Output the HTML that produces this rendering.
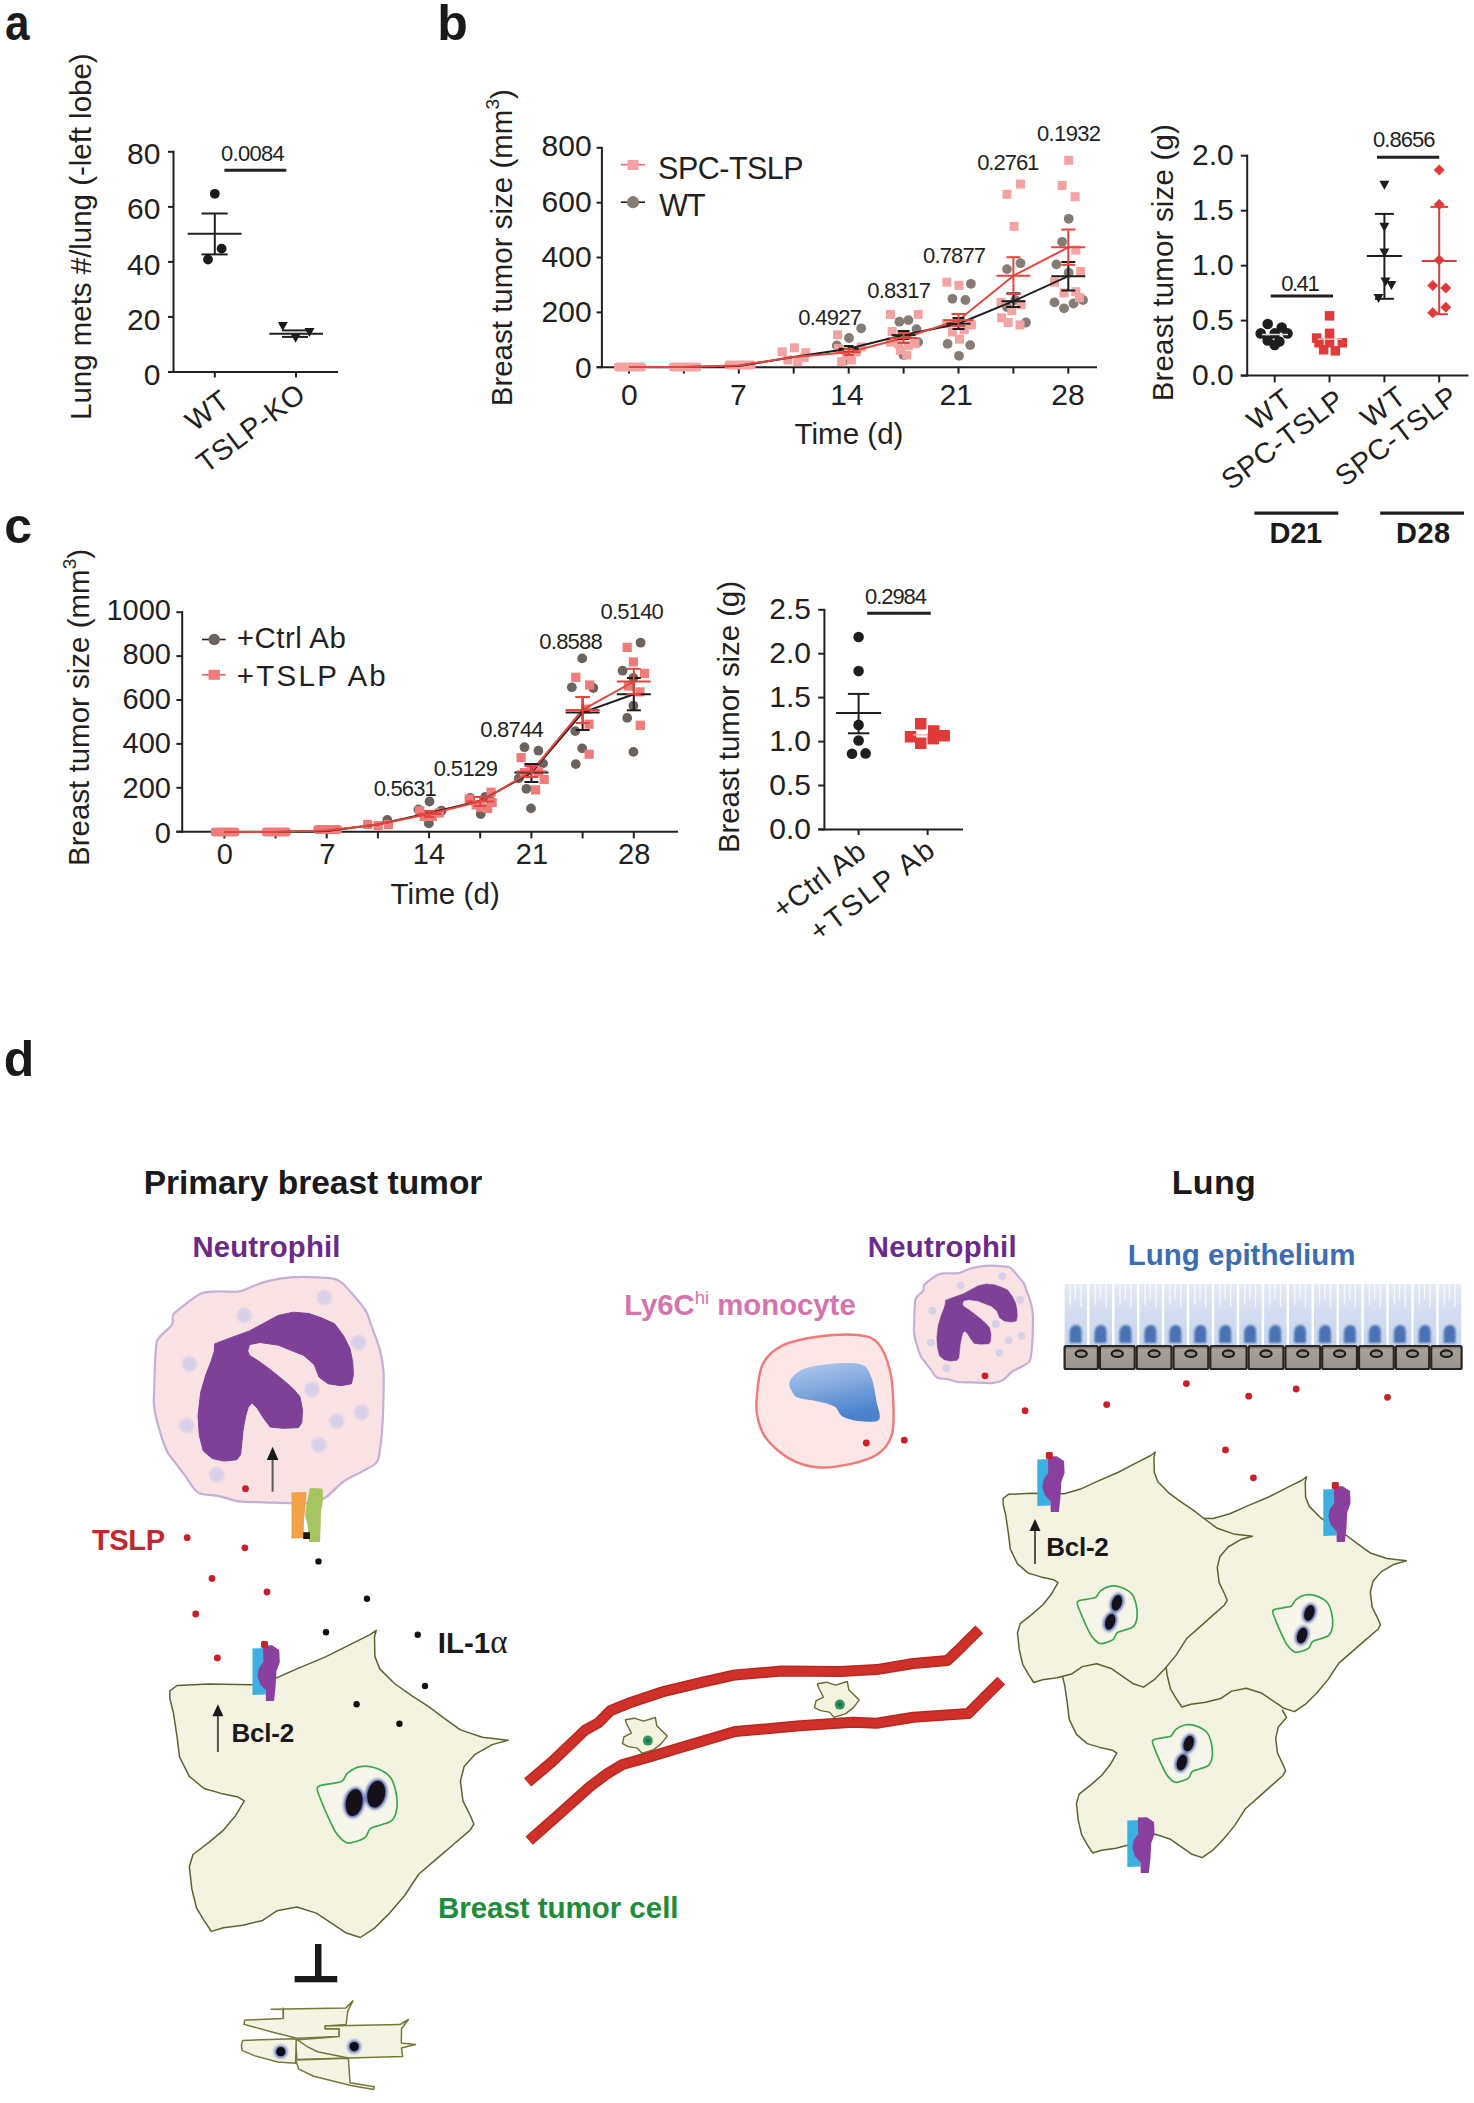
<!DOCTYPE html><html><head><meta charset="utf-8"><style>html,body{margin:0;padding:0;background:#fff;overflow:hidden}svg{display:block}text{font-family:"Liberation Sans",sans-serif}</style></head><body><svg width="1474" height="2103" viewBox="0 0 1474 2103" font-family="Liberation Sans, sans-serif"><text transform="translate(7.2 40) scale(0.88 1)" font-size="50" font-weight="bold" fill="#1a1a1a" x="-2.6" y="0">a</text>
<text x="437.2" y="39.7" font-size="50" text-anchor="start" font-weight="bold" fill="#1a1a1a" >b</text>
<text x="4.3" y="542.7" font-size="50" text-anchor="start" font-weight="bold" fill="#1a1a1a" >c</text>
<text x="3.7" y="1076.2" font-size="50" text-anchor="start" font-weight="bold" fill="#1a1a1a" >d</text>
<line x1="173.5" y1="150.8" x2="173.5" y2="373.0" stroke="#231f20" stroke-width="2" />
<line x1="168.0" y1="151.8" x2="173.5" y2="151.8" stroke="#231f20" stroke-width="2" />
<text x="127.10" y="164.40" font-size="30" font-weight="normal" fill="#231f20" textLength="33.37" lengthAdjust="spacing">80</text>
<line x1="168.0" y1="206.9" x2="173.5" y2="206.9" stroke="#231f20" stroke-width="2" />
<text x="127.10" y="219.45" font-size="30" font-weight="normal" fill="#231f20" textLength="33.37" lengthAdjust="spacing">60</text>
<line x1="168.0" y1="261.9" x2="173.5" y2="261.9" stroke="#231f20" stroke-width="2" />
<text x="127.10" y="274.50" font-size="30" font-weight="normal" fill="#231f20" textLength="33.37" lengthAdjust="spacing">40</text>
<line x1="168.0" y1="316.9" x2="173.5" y2="316.9" stroke="#231f20" stroke-width="2" />
<text x="127.10" y="329.55" font-size="30" font-weight="normal" fill="#231f20" textLength="33.37" lengthAdjust="spacing">20</text>
<line x1="168.0" y1="372.0" x2="173.5" y2="372.0" stroke="#231f20" stroke-width="2" />
<text x="143.79" y="384.60" font-size="30" font-weight="normal" fill="#231f20" textLength="16.68" lengthAdjust="spacing">0</text>
<line x1="168.0" y1="372.0" x2="338.0" y2="372.0" stroke="#231f20" stroke-width="2" />
<line x1="214.8" y1="372.0" x2="214.8" y2="377.5" stroke="#231f20" stroke-width="2" />
<line x1="296.0" y1="372.0" x2="296.0" y2="377.5" stroke="#231f20" stroke-width="2" />
<g transform="translate(90.60 419.92) rotate(-90)"><text x="0" y="0" font-size="29.5" font-weight="normal" fill="#231f20" textLength="366.55" lengthAdjust="spacing">Lung mets #/lung (-left lobe)</text></g>
<g transform="translate(231.35 404.65) rotate(-37)"><text x="0" y="0" text-anchor="end" font-size="28.7" fill="#231f20" textLength="45.96" lengthAdjust="spacing">WT</text></g>
<g transform="translate(307.10 398.00) rotate(-37)"><text x="0" y="0" text-anchor="end" font-size="28.7" fill="#231f20" textLength="126.49" lengthAdjust="spacing">TSLP-KO</text></g>
<text x="220.94" y="160.50" font-size="22" font-weight="normal" fill="#231f20" textLength="63.90" lengthAdjust="spacing">0.0084</text>
<line x1="224.4" y1="170.2" x2="286.3" y2="170.2" stroke="#231f20" stroke-width="3" />
<line x1="187.7" y1="233.8" x2="241.5" y2="233.8" stroke="#231f20" stroke-width="2" />
<line x1="214.8" y1="213.5" x2="214.8" y2="254.4" stroke="#231f20" stroke-width="2" />
<line x1="201.5" y1="213.5" x2="227.7" y2="213.5" stroke="#231f20" stroke-width="2" />
<line x1="201.5" y1="254.4" x2="227.7" y2="254.4" stroke="#231f20" stroke-width="2" />
<circle cx="214.8" cy="193.8" r="4.9" fill="#1a1a1a" />
<circle cx="221.6" cy="248.6" r="4.9" fill="#1a1a1a" />
<circle cx="208.0" cy="259.5" r="4.9" fill="#1a1a1a" />
<path d="M277.8,322.1L287.8,322.1L282.8,331.1Z" fill="#1a1a1a"/>
<path d="M304.5,327.9L314.5,327.9L309.5,336.9Z" fill="#1a1a1a"/>
<path d="M290.6,333.7L300.6,333.7L295.6,342.7Z" fill="#1a1a1a"/>
<line x1="282.0" y1="330.4" x2="308.0" y2="330.4" stroke="#231f20" stroke-width="2" />
<line x1="282.0" y1="336.9" x2="308.0" y2="336.9" stroke="#231f20" stroke-width="2" />
<line x1="269.3" y1="333.7" x2="323.0" y2="333.7" stroke="#231f20" stroke-width="2" />
<line x1="601.9" y1="146.8" x2="601.9" y2="368.2" stroke="#231f20" stroke-width="2" />
<line x1="596.6" y1="147.8" x2="601.9" y2="147.8" stroke="#231f20" stroke-width="2" />
<text x="541.62" y="156.40" font-size="30" font-weight="normal" fill="#231f20" textLength="50.05" lengthAdjust="spacing">800</text>
<line x1="596.6" y1="202.7" x2="601.9" y2="202.7" stroke="#231f20" stroke-width="2" />
<text x="541.62" y="212.20" font-size="30" font-weight="normal" fill="#231f20" textLength="50.05" lengthAdjust="spacing">600</text>
<line x1="596.6" y1="257.5" x2="601.9" y2="257.5" stroke="#231f20" stroke-width="2" />
<text x="541.62" y="267.20" font-size="30" font-weight="normal" fill="#231f20" textLength="50.05" lengthAdjust="spacing">400</text>
<line x1="596.6" y1="312.4" x2="601.9" y2="312.4" stroke="#231f20" stroke-width="2" />
<text x="541.62" y="322.30" font-size="30" font-weight="normal" fill="#231f20" textLength="50.05" lengthAdjust="spacing">200</text>
<line x1="596.6" y1="367.2" x2="601.9" y2="367.2" stroke="#231f20" stroke-width="2" />
<text x="574.99" y="378.10" font-size="30" font-weight="normal" fill="#231f20" textLength="16.68" lengthAdjust="spacing">0</text>
<line x1="596.6" y1="367.2" x2="1097.0" y2="367.2" stroke="#231f20" stroke-width="2" />
<line x1="629.0" y1="367.2" x2="629.0" y2="373.6" stroke="#231f20" stroke-width="2" />
<line x1="683.9" y1="367.2" x2="683.9" y2="373.6" stroke="#231f20" stroke-width="2" />
<line x1="738.8" y1="367.2" x2="738.8" y2="373.6" stroke="#231f20" stroke-width="2" />
<line x1="793.7" y1="367.2" x2="793.7" y2="373.6" stroke="#231f20" stroke-width="2" />
<line x1="848.7" y1="367.2" x2="848.7" y2="373.6" stroke="#231f20" stroke-width="2" />
<line x1="903.6" y1="367.2" x2="903.6" y2="373.6" stroke="#231f20" stroke-width="2" />
<line x1="958.5" y1="367.2" x2="958.5" y2="373.6" stroke="#231f20" stroke-width="2" />
<line x1="1013.4" y1="367.2" x2="1013.4" y2="373.6" stroke="#231f20" stroke-width="2" />
<line x1="1068.3" y1="367.2" x2="1068.3" y2="373.6" stroke="#231f20" stroke-width="2" />
<text x="620.96" y="405.30" font-size="30" font-weight="normal" fill="#231f20" textLength="16.68" lengthAdjust="spacing">0</text>
<text x="729.94" y="405.30" font-size="30" font-weight="normal" fill="#231f20" textLength="16.68" lengthAdjust="spacing">7</text>
<text x="830.21" y="405.30" font-size="30" font-weight="normal" fill="#231f20" textLength="33.37" lengthAdjust="spacing">14</text>
<text x="939.49" y="405.30" font-size="30" font-weight="normal" fill="#231f20" textLength="33.37" lengthAdjust="spacing">21</text>
<text x="1051.31" y="405.30" font-size="30" font-weight="normal" fill="#231f20" textLength="33.37" lengthAdjust="spacing">28</text>
<text x="794.54" y="444.20" font-size="29.5" font-weight="normal" fill="#231f20" textLength="108.89" lengthAdjust="spacing">Time (d)</text>
<g transform="translate(511.5 406.3) rotate(-90)"><text x="0" y="0" font-size="29.5" fill="#231f20">Breast tumor size (mm<tspan dy="-13" font-size="19">3</tspan><tspan dy="13">)</tspan></text></g>
<line x1="620.9" y1="164.7" x2="645.0" y2="164.7" stroke="#ee6b6b" stroke-width="1.6" />
<rect x="627.5" y="160.0" width="11" height="10" fill="#f4a3a3"/>
<text x="658.11" y="178.50" font-size="30.5" font-weight="normal" fill="#231f20" textLength="145.49" lengthAdjust="spacing">SPC-TSLP</text>
<line x1="620.9" y1="202.2" x2="645.0" y2="202.2" stroke="#1e1e1e" stroke-width="1.6" />
<circle cx="633.0" cy="202.2" r="6.1" fill="#867c76" />
<text x="659.37" y="215.80" font-size="30.5" font-weight="normal" fill="#231f20" textLength="46.33" lengthAdjust="spacing">WT</text>
<rect x="614.0" y="362.5" width="32.0" height="9" rx="3" fill="#f4a3a3"/>
<rect x="669.0" y="362.5" width="32.5" height="9" rx="3" fill="#f4a3a3"/>
<rect x="724.5" y="360.5" width="31.2" height="9" rx="3" fill="#f4a3a3"/>
<circle cx="970.9" cy="283.8" r="4.9" fill="#867c76" />
<circle cx="952.4" cy="298.8" r="4.9" fill="#867c76" />
<circle cx="965.4" cy="300.0" r="4.9" fill="#867c76" />
<circle cx="947.6" cy="343.9" r="4.9" fill="#867c76" />
<circle cx="970.2" cy="345.1" r="4.9" fill="#867c76" />
<circle cx="959.0" cy="355.8" r="4.9" fill="#867c76" />
<circle cx="1007.0" cy="269.1" r="4.9" fill="#867c76" />
<circle cx="1020.5" cy="263.2" r="4.9" fill="#867c76" />
<circle cx="1007.0" cy="307.1" r="4.9" fill="#867c76" />
<circle cx="1026.0" cy="322.5" r="4.9" fill="#867c76" />
<circle cx="1015.3" cy="300.0" r="4.9" fill="#867c76" />
<circle cx="1068.7" cy="218.8" r="4.9" fill="#867c76" />
<circle cx="1062.1" cy="241.8" r="4.9" fill="#867c76" />
<circle cx="1056.4" cy="264.4" r="4.9" fill="#867c76" />
<circle cx="1068.7" cy="272.7" r="4.9" fill="#867c76" />
<circle cx="1054.5" cy="302.4" r="4.9" fill="#867c76" />
<circle cx="1064.0" cy="308.3" r="4.9" fill="#867c76" />
<circle cx="1073.5" cy="303.5" r="4.9" fill="#867c76" />
<circle cx="1083.0" cy="300.0" r="4.9" fill="#867c76" />
<circle cx="836.8" cy="345.4" r="4.9" fill="#867c76" />
<circle cx="849.0" cy="338.0" r="4.9" fill="#867c76" />
<circle cx="861.2" cy="328.3" r="4.9" fill="#867c76" />
<circle cx="843.3" cy="361.6" r="4.9" fill="#867c76" />
<circle cx="899.4" cy="321.7" r="4.9" fill="#867c76" />
<circle cx="908.4" cy="320.1" r="4.9" fill="#867c76" />
<circle cx="916.5" cy="329.1" r="4.9" fill="#867c76" />
<circle cx="918.2" cy="342.1" r="4.9" fill="#867c76" />
<circle cx="903.5" cy="355.1" r="4.9" fill="#867c76" />
<rect x="942.4" y="277.7" width="9" height="9" fill="#f4a3a3"/>
<rect x="954.5" y="280.8" width="9" height="9" fill="#f4a3a3"/>
<rect x="941.9" y="319.2" width="9" height="9" fill="#f4a3a3"/>
<rect x="966.9" y="320.4" width="9" height="9" fill="#f4a3a3"/>
<rect x="955.0" y="334.7" width="9" height="9" fill="#f4a3a3"/>
<rect x="947.9" y="327.5" width="9" height="9" fill="#f4a3a3"/>
<rect x="959.7" y="325.2" width="9" height="9" fill="#f4a3a3"/>
<rect x="953.8" y="318.0" width="9" height="9" fill="#f4a3a3"/>
<rect x="1002.5" y="189.8" width="9" height="9" fill="#f4a3a3"/>
<rect x="1016.0" y="179.6" width="9" height="9" fill="#f4a3a3"/>
<rect x="1009.6" y="221.9" width="9" height="9" fill="#f4a3a3"/>
<rect x="996.5" y="297.9" width="9" height="9" fill="#f4a3a3"/>
<rect x="1016.7" y="300.2" width="9" height="9" fill="#f4a3a3"/>
<rect x="997.2" y="313.3" width="9" height="9" fill="#f4a3a3"/>
<rect x="1003.7" y="318.0" width="9" height="9" fill="#f4a3a3"/>
<rect x="1015.5" y="320.4" width="9" height="9" fill="#f4a3a3"/>
<rect x="1007.2" y="306.2" width="9" height="9" fill="#f4a3a3"/>
<rect x="1064.2" y="155.8" width="9" height="9" fill="#f4a3a3"/>
<rect x="1057.6" y="181.0" width="9" height="9" fill="#f4a3a3"/>
<rect x="1070.6" y="192.2" width="9" height="9" fill="#f4a3a3"/>
<rect x="1071.3" y="245.6" width="9" height="9" fill="#f4a3a3"/>
<rect x="1076.1" y="267.0" width="9" height="9" fill="#f4a3a3"/>
<rect x="1050.0" y="277.7" width="9" height="9" fill="#f4a3a3"/>
<rect x="1059.5" y="288.4" width="9" height="9" fill="#f4a3a3"/>
<rect x="1071.3" y="287.2" width="9" height="9" fill="#f4a3a3"/>
<rect x="1074.9" y="293.1" width="9" height="9" fill="#f4a3a3"/>
<rect x="777.7" y="347.4" width="9" height="9" fill="#f4a3a3"/>
<rect x="789.9" y="343.3" width="9" height="9" fill="#f4a3a3"/>
<rect x="801.3" y="348.2" width="9" height="9" fill="#f4a3a3"/>
<rect x="783.4" y="355.5" width="9" height="9" fill="#f4a3a3"/>
<rect x="793.2" y="357.1" width="9" height="9" fill="#f4a3a3"/>
<rect x="799.7" y="353.1" width="9" height="9" fill="#f4a3a3"/>
<rect x="833.1" y="330.3" width="9" height="9" fill="#f4a3a3"/>
<rect x="856.7" y="342.5" width="9" height="9" fill="#f4a3a3"/>
<rect x="846.9" y="355.5" width="9" height="9" fill="#f4a3a3"/>
<rect x="837.1" y="357.1" width="9" height="9" fill="#f4a3a3"/>
<rect x="842.0" y="350.6" width="9" height="9" fill="#f4a3a3"/>
<rect x="833.9" y="344.1" width="9" height="9" fill="#f4a3a3"/>
<rect x="851.8" y="347.4" width="9" height="9" fill="#f4a3a3"/>
<rect x="886.0" y="309.9" width="9" height="9" fill="#f4a3a3"/>
<rect x="913.7" y="309.9" width="9" height="9" fill="#f4a3a3"/>
<rect x="887.6" y="327.0" width="9" height="9" fill="#f4a3a3"/>
<rect x="886.0" y="337.6" width="9" height="9" fill="#f4a3a3"/>
<rect x="895.8" y="345.7" width="9" height="9" fill="#f4a3a3"/>
<rect x="903.9" y="340.9" width="9" height="9" fill="#f4a3a3"/>
<rect x="910.4" y="339.2" width="9" height="9" fill="#f4a3a3"/>
<rect x="902.3" y="350.6" width="9" height="9" fill="#f4a3a3"/>
<rect x="894.1" y="339.2" width="9" height="9" fill="#f4a3a3"/>
<polyline fill="none" stroke="#1e1e1e" stroke-width="2" points="629.0,367.0 683.9,367.0 738.8,366.0 793.7,357.0 848.7,348.7 903.6,335.1 958.5,323.7 1013.4,301.2 1068.3,276.2"/>
<polyline fill="none" stroke="#e4453c" stroke-width="2" points="629.0,367.0 683.9,367.0 738.8,365.5 793.7,357.0 848.7,352.2 903.6,338.0 958.5,320.2 1013.4,275.8 1068.3,247.3"/>
<line x1="838.7" y1="348.7" x2="858.7" y2="348.7" stroke="#1e1e1e" stroke-width="2" />
<line x1="848.7" y1="346.0" x2="848.7" y2="352.0" stroke="#1e1e1e" stroke-width="2" />
<line x1="843.7" y1="346.0" x2="853.7" y2="346.0" stroke="#1e1e1e" stroke-width="2" />
<line x1="843.7" y1="352.0" x2="853.7" y2="352.0" stroke="#1e1e1e" stroke-width="2" />
<line x1="891.6" y1="335.1" x2="915.6" y2="335.1" stroke="#1e1e1e" stroke-width="2" />
<line x1="903.6" y1="331.0" x2="903.6" y2="339.0" stroke="#1e1e1e" stroke-width="2" />
<line x1="897.6" y1="331.0" x2="909.6" y2="331.0" stroke="#1e1e1e" stroke-width="2" />
<line x1="897.6" y1="339.0" x2="909.6" y2="339.0" stroke="#1e1e1e" stroke-width="2" />
<line x1="946.5" y1="323.7" x2="970.5" y2="323.7" stroke="#1e1e1e" stroke-width="2" />
<line x1="958.5" y1="318.0" x2="958.5" y2="329.0" stroke="#1e1e1e" stroke-width="2" />
<line x1="952.5" y1="318.0" x2="964.5" y2="318.0" stroke="#1e1e1e" stroke-width="2" />
<line x1="952.5" y1="329.0" x2="964.5" y2="329.0" stroke="#1e1e1e" stroke-width="2" />
<line x1="1001.4" y1="301.2" x2="1025.4" y2="301.2" stroke="#1e1e1e" stroke-width="2" />
<line x1="1013.4" y1="293.3" x2="1013.4" y2="307.0" stroke="#1e1e1e" stroke-width="2" />
<line x1="1006.4" y1="293.3" x2="1020.4" y2="293.3" stroke="#1e1e1e" stroke-width="2" />
<line x1="1006.4" y1="307.0" x2="1020.4" y2="307.0" stroke="#1e1e1e" stroke-width="2" />
<line x1="1051.3" y1="276.2" x2="1085.3" y2="276.2" stroke="#1e1e1e" stroke-width="2" />
<line x1="1068.3" y1="262.0" x2="1068.3" y2="290.5" stroke="#1e1e1e" stroke-width="2" />
<line x1="1061.3" y1="262.0" x2="1075.3" y2="262.0" stroke="#1e1e1e" stroke-width="2" />
<line x1="1061.3" y1="290.5" x2="1075.3" y2="290.5" stroke="#1e1e1e" stroke-width="2" />
<line x1="836.7" y1="352.2" x2="860.7" y2="352.2" stroke="#e4453c" stroke-width="2" />
<line x1="848.7" y1="349.0" x2="848.7" y2="355.0" stroke="#e4453c" stroke-width="2" />
<line x1="843.7" y1="349.0" x2="853.7" y2="349.0" stroke="#e4453c" stroke-width="2" />
<line x1="843.7" y1="355.0" x2="853.7" y2="355.0" stroke="#e4453c" stroke-width="2" />
<line x1="889.6" y1="338.0" x2="917.6" y2="338.0" stroke="#e4453c" stroke-width="2" />
<line x1="903.6" y1="333.0" x2="903.6" y2="343.0" stroke="#e4453c" stroke-width="2" />
<line x1="897.6" y1="333.0" x2="909.6" y2="333.0" stroke="#e4453c" stroke-width="2" />
<line x1="897.6" y1="343.0" x2="909.6" y2="343.0" stroke="#e4453c" stroke-width="2" />
<line x1="943.5" y1="320.2" x2="973.5" y2="320.2" stroke="#e4453c" stroke-width="2" />
<line x1="958.5" y1="314.0" x2="958.5" y2="326.0" stroke="#e4453c" stroke-width="2" />
<line x1="951.5" y1="314.0" x2="965.5" y2="314.0" stroke="#e4453c" stroke-width="2" />
<line x1="951.5" y1="326.0" x2="965.5" y2="326.0" stroke="#e4453c" stroke-width="2" />
<line x1="996.4" y1="275.8" x2="1030.4" y2="275.8" stroke="#e4453c" stroke-width="2" />
<line x1="1013.4" y1="257.2" x2="1013.4" y2="294.0" stroke="#e4453c" stroke-width="2" />
<line x1="1006.4" y1="257.2" x2="1020.4" y2="257.2" stroke="#e4453c" stroke-width="2" />
<line x1="1006.4" y1="294.0" x2="1020.4" y2="294.0" stroke="#e4453c" stroke-width="2" />
<line x1="1051.3" y1="247.3" x2="1085.3" y2="247.3" stroke="#e4453c" stroke-width="2" />
<line x1="1068.3" y1="229.5" x2="1068.3" y2="264.8" stroke="#e4453c" stroke-width="2" />
<line x1="1061.3" y1="229.5" x2="1075.3" y2="229.5" stroke="#e4453c" stroke-width="2" />
<line x1="1061.3" y1="264.8" x2="1075.3" y2="264.8" stroke="#e4453c" stroke-width="2" />
<text x="798.34" y="325.00" font-size="22" font-weight="normal" fill="#231f20" textLength="63.77" lengthAdjust="spacing">0.4927</text>
<text x="867.14" y="297.60" font-size="22" font-weight="normal" fill="#231f20" textLength="63.77" lengthAdjust="spacing">0.8317</text>
<text x="923.04" y="263.00" font-size="22" font-weight="normal" fill="#231f20" textLength="63.07" lengthAdjust="spacing">0.7877</text>
<text x="977.14" y="169.80" font-size="22" font-weight="normal" fill="#231f20" textLength="62.23" lengthAdjust="spacing">0.2761</text>
<text x="1036.94" y="140.90" font-size="22" font-weight="normal" fill="#231f20" textLength="64.17" lengthAdjust="spacing">0.1932</text>
<line x1="1247.2" y1="154.7" x2="1247.2" y2="376.6" stroke="#231f20" stroke-width="2" />
<line x1="1240.8" y1="155.7" x2="1247.2" y2="155.7" stroke="#231f20" stroke-width="2" />
<text x="1191.97" y="165.00" font-size="30" font-weight="normal" fill="#231f20" textLength="41.70" lengthAdjust="spacing">2.0</text>
<line x1="1240.8" y1="210.7" x2="1247.2" y2="210.7" stroke="#231f20" stroke-width="2" />
<text x="1192.06" y="219.98" font-size="30" font-weight="normal" fill="#231f20" textLength="41.70" lengthAdjust="spacing">1.5</text>
<line x1="1240.8" y1="265.7" x2="1247.2" y2="265.7" stroke="#231f20" stroke-width="2" />
<text x="1191.97" y="274.96" font-size="30" font-weight="normal" fill="#231f20" textLength="41.70" lengthAdjust="spacing">1.0</text>
<line x1="1240.8" y1="320.6" x2="1247.2" y2="320.6" stroke="#231f20" stroke-width="2" />
<text x="1192.06" y="329.94" font-size="30" font-weight="normal" fill="#231f20" textLength="41.70" lengthAdjust="spacing">0.5</text>
<line x1="1240.8" y1="375.6" x2="1247.2" y2="375.6" stroke="#231f20" stroke-width="2" />
<text x="1191.97" y="384.92" font-size="30" font-weight="normal" fill="#231f20" textLength="41.70" lengthAdjust="spacing">0.0</text>
<line x1="1240.8" y1="375.6" x2="1468.4" y2="375.6" stroke="#231f20" stroke-width="2" />
<line x1="1274.7" y1="375.6" x2="1274.7" y2="382.4" stroke="#231f20" stroke-width="2" />
<line x1="1329.5" y1="375.6" x2="1329.5" y2="382.4" stroke="#231f20" stroke-width="2" />
<line x1="1384.4" y1="375.6" x2="1384.4" y2="382.4" stroke="#231f20" stroke-width="2" />
<line x1="1439.2" y1="375.6" x2="1439.2" y2="382.4" stroke="#231f20" stroke-width="2" />
<g transform="translate(1172.70 401.32) rotate(-90)"><text x="0" y="0" font-size="29.5" font-weight="normal" fill="#231f20" textLength="277.15" lengthAdjust="spacing">Breast tumor size (g)</text></g>
<g transform="translate(1293.95 403.20) rotate(-37)"><text x="0" y="0" text-anchor="end" font-size="28.7" fill="#231f20" textLength="47.30" lengthAdjust="spacing">WT</text></g>
<g transform="translate(1346.10 404.05) rotate(-37)"><text x="0" y="0" text-anchor="end" font-size="28.7" fill="#231f20" textLength="144.56" lengthAdjust="spacing">SPC-TSLP</text></g>
<g transform="translate(1407.70 400.60) rotate(-37)"><text x="0" y="0" text-anchor="end" font-size="28.7" fill="#231f20" textLength="47.30" lengthAdjust="spacing">WT</text></g>
<g transform="translate(1459.90 400.50) rotate(-37)"><text x="0" y="0" text-anchor="end" font-size="28.7" fill="#231f20" textLength="144.56" lengthAdjust="spacing">SPC-TSLP</text></g>
<line x1="1254.4" y1="513.2" x2="1338.3" y2="513.2" stroke="#231f20" stroke-width="3.2" />
<line x1="1380.2" y1="513.2" x2="1464.0" y2="513.2" stroke="#231f20" stroke-width="3.2" />
<text x="1269.46" y="542.70" font-size="29" font-weight="bold" fill="#1a1a1a" textLength="52.75" lengthAdjust="spacing">D21</text>
<text x="1395.96" y="542.70" font-size="29" font-weight="bold" fill="#1a1a1a" textLength="54.23" lengthAdjust="spacing">D28</text>
<text x="1281.14" y="291.40" font-size="22" font-weight="normal" fill="#231f20" textLength="38.53" lengthAdjust="spacing">0.41</text>
<line x1="1270.7" y1="296.0" x2="1333.0" y2="296.0" stroke="#231f20" stroke-width="3" />
<text x="1373.04" y="146.70" font-size="22" font-weight="normal" fill="#231f20" textLength="62.43" lengthAdjust="spacing">0.8656</text>
<line x1="1377.0" y1="157.2" x2="1439.2" y2="157.2" stroke="#231f20" stroke-width="3" />
<circle cx="1267.7" cy="324.0" r="5.3" fill="#1e1e1e" />
<circle cx="1281.7" cy="327.5" r="5.3" fill="#1e1e1e" />
<circle cx="1274.7" cy="333.4" r="5.3" fill="#1e1e1e" />
<circle cx="1260.7" cy="333.4" r="5.3" fill="#1e1e1e" />
<circle cx="1287.5" cy="333.4" r="5.3" fill="#1e1e1e" />
<circle cx="1267.7" cy="340.4" r="5.3" fill="#1e1e1e" />
<circle cx="1279.4" cy="341.5" r="5.3" fill="#1e1e1e" />
<circle cx="1274.7" cy="345.0" r="5.3" fill="#1e1e1e" />
<line x1="1262.0" y1="334.5" x2="1288.0" y2="334.5" stroke="#dddddd" stroke-width="1.5" />
<rect x="1324.8" y="311.1" width="9.5" height="9.5" fill="#e03a3a"/>
<rect x="1311.9" y="333.3" width="9.5" height="9.5" fill="#e03a3a"/>
<rect x="1324.8" y="328.6" width="9.5" height="9.5" fill="#e03a3a"/>
<rect x="1337.6" y="338.0" width="9.5" height="9.5" fill="#e03a3a"/>
<rect x="1318.9" y="345.0" width="9.5" height="9.5" fill="#e03a3a"/>
<rect x="1330.6" y="346.1" width="9.5" height="9.5" fill="#e03a3a"/>
<rect x="1324.8" y="338.0" width="9.5" height="9.5" fill="#e03a3a"/>
<rect x="1314.3" y="338.0" width="9.5" height="9.5" fill="#e03a3a"/>
<line x1="1318.0" y1="339.2" x2="1342.0" y2="339.2" stroke="#f8c8c8" stroke-width="1.5" />
<path d="M1379.4,180.7L1389.4,180.7L1384.4,189.7Z" fill="#1e1e1e"/>
<path d="M1379.4,222.7L1389.4,222.7L1384.4,231.7Z" fill="#1e1e1e"/>
<path d="M1379.4,248.4L1389.4,248.4L1384.4,257.4Z" fill="#1e1e1e"/>
<path d="M1380.5,277.5L1390.5,277.5L1385.5,286.5Z" fill="#1e1e1e"/>
<path d="M1386.4,281.0L1396.4,281.0L1391.4,290.0Z" fill="#1e1e1e"/>
<path d="M1373.5,293.9L1383.5,293.9L1378.5,302.9Z" fill="#1e1e1e"/>
<line x1="1366.9" y1="255.9" x2="1401.9" y2="255.9" stroke="#1e1e1e" stroke-width="2" />
<line x1="1384.4" y1="213.9" x2="1384.4" y2="298.8" stroke="#1e1e1e" stroke-width="2" />
<line x1="1374.9" y1="213.9" x2="1393.9" y2="213.9" stroke="#1e1e1e" stroke-width="2" />
<line x1="1374.9" y1="298.8" x2="1393.9" y2="298.8" stroke="#1e1e1e" stroke-width="2" />
<path d="M1439.2,164.5L1444.7,170.0L1439.2,175.5L1433.7,170.0Z" fill="#e03a3a"/>
<path d="M1439.2,199.1L1444.7,204.6L1439.2,210.1L1433.7,204.6Z" fill="#e03a3a"/>
<path d="M1439.2,254.4L1444.7,259.9L1439.2,265.4L1433.7,259.9Z" fill="#e03a3a"/>
<path d="M1432.7,280.0L1438.2,285.5L1432.7,291.0L1427.2,285.5Z" fill="#e03a3a"/>
<path d="M1445.8,282.4L1451.3,287.9L1445.8,293.4L1440.3,287.9Z" fill="#e03a3a"/>
<path d="M1432.7,307.3L1438.2,312.8L1432.7,318.3L1427.2,312.8Z" fill="#e03a3a"/>
<path d="M1445.8,301.7L1451.3,307.2L1445.8,312.7L1440.3,307.2Z" fill="#e03a3a"/>
<line x1="1421.7" y1="261.0" x2="1456.7" y2="261.0" stroke="#e03a3a" stroke-width="2" />
<line x1="1439.2" y1="206.9" x2="1439.2" y2="314.2" stroke="#e03a3a" stroke-width="2" />
<line x1="1430.5" y1="206.9" x2="1447.9" y2="206.9" stroke="#e03a3a" stroke-width="2" />
<line x1="1430.5" y1="314.2" x2="1447.9" y2="314.2" stroke="#e03a3a" stroke-width="2" />
<line x1="182.2" y1="611.2" x2="182.2" y2="832.7" stroke="#231f20" stroke-width="2" />
<line x1="176.4" y1="612.2" x2="182.2" y2="612.2" stroke="#231f20" stroke-width="2" />
<text x="106.42" y="619.50" font-size="29" font-weight="normal" fill="#231f20" textLength="64.51" lengthAdjust="spacing">1000</text>
<line x1="176.4" y1="656.1" x2="182.2" y2="656.1" stroke="#231f20" stroke-width="2" />
<text x="122.55" y="664.00" font-size="29" font-weight="normal" fill="#231f20" textLength="48.39" lengthAdjust="spacing">800</text>
<line x1="176.4" y1="700.0" x2="182.2" y2="700.0" stroke="#231f20" stroke-width="2" />
<text x="122.55" y="709.20" font-size="29" font-weight="normal" fill="#231f20" textLength="48.39" lengthAdjust="spacing">600</text>
<line x1="176.4" y1="743.9" x2="182.2" y2="743.9" stroke="#231f20" stroke-width="2" />
<text x="122.55" y="752.70" font-size="29" font-weight="normal" fill="#231f20" textLength="48.39" lengthAdjust="spacing">400</text>
<line x1="176.4" y1="787.8" x2="182.2" y2="787.8" stroke="#231f20" stroke-width="2" />
<text x="122.55" y="797.50" font-size="29" font-weight="normal" fill="#231f20" textLength="48.39" lengthAdjust="spacing">200</text>
<line x1="176.4" y1="831.7" x2="182.2" y2="831.7" stroke="#231f20" stroke-width="2" />
<text x="154.80" y="842.60" font-size="29" font-weight="normal" fill="#231f20" textLength="16.13" lengthAdjust="spacing">0</text>
<line x1="176.4" y1="831.7" x2="678.0" y2="831.7" stroke="#231f20" stroke-width="2" />
<line x1="224.4" y1="831.7" x2="224.4" y2="838.4" stroke="#231f20" stroke-width="2" />
<line x1="275.6" y1="831.7" x2="275.6" y2="838.4" stroke="#231f20" stroke-width="2" />
<line x1="326.7" y1="831.7" x2="326.7" y2="838.4" stroke="#231f20" stroke-width="2" />
<line x1="377.9" y1="831.7" x2="377.9" y2="838.4" stroke="#231f20" stroke-width="2" />
<line x1="429.1" y1="831.7" x2="429.1" y2="838.4" stroke="#231f20" stroke-width="2" />
<line x1="480.2" y1="831.7" x2="480.2" y2="838.4" stroke="#231f20" stroke-width="2" />
<line x1="531.4" y1="831.7" x2="531.4" y2="838.4" stroke="#231f20" stroke-width="2" />
<line x1="582.6" y1="831.7" x2="582.6" y2="838.4" stroke="#231f20" stroke-width="2" />
<line x1="633.8" y1="831.7" x2="633.8" y2="838.4" stroke="#231f20" stroke-width="2" />
<text x="216.84" y="863.50" font-size="29" font-weight="normal" fill="#231f20" textLength="16.13" lengthAdjust="spacing">0</text>
<text x="319.16" y="863.50" font-size="29" font-weight="normal" fill="#231f20" textLength="16.13" lengthAdjust="spacing">7</text>
<text x="412.77" y="863.50" font-size="29" font-weight="normal" fill="#231f20" textLength="32.26" lengthAdjust="spacing">14</text>
<text x="515.77" y="863.50" font-size="29" font-weight="normal" fill="#231f20" textLength="32.26" lengthAdjust="spacing">21</text>
<text x="618.03" y="863.50" font-size="29" font-weight="normal" fill="#231f20" textLength="32.26" lengthAdjust="spacing">28</text>
<text x="390.54" y="903.80" font-size="29.5" font-weight="normal" fill="#231f20" textLength="109.29" lengthAdjust="spacing">Time (d)</text>
<g transform="translate(88.5 866) rotate(-90)"><text x="0" y="0" font-size="29.5" fill="#231f20">Breast tumor size (mm<tspan dy="-13" font-size="19">3</tspan><tspan dy="13">)</tspan></text></g>
<line x1="202.0" y1="639.5" x2="225.6" y2="639.5" stroke="#1e1e1e" stroke-width="1.6" />
<circle cx="214.2" cy="639.5" r="5.8" fill="#6b635e" />
<text x="236.76" y="648.20" font-size="29.5" font-weight="normal" fill="#231f20" textLength="109.08" lengthAdjust="spacing">+Ctrl Ab</text>
<line x1="202.0" y1="674.8" x2="225.6" y2="674.8" stroke="#ee6060" stroke-width="1.6" />
<rect x="208.5" y="669.8" width="11.4" height="10" fill="#ef7b7b"/>
<text x="236.76" y="685.50" font-size="29.5" font-weight="normal" fill="#231f20" textLength="148.98" lengthAdjust="spacing">+TSLP Ab</text>
<rect x="210.8" y="827.5" width="28.5" height="9" rx="3" fill="#ef7b7b"/>
<rect x="262.0" y="827.5" width="28.6" height="9" rx="3" fill="#ef7b7b"/>
<rect x="313.4" y="825" width="28.6" height="9" rx="3" fill="#ef7b7b"/>
<circle cx="429.5" cy="801.5" r="4.9" fill="#6b635e" />
<circle cx="418.4" cy="809.5" r="4.9" fill="#6b635e" />
<circle cx="441.5" cy="810.7" r="4.9" fill="#6b635e" />
<circle cx="428.8" cy="823.4" r="4.9" fill="#6b635e" />
<circle cx="470.3" cy="798.0" r="4.9" fill="#6b635e" />
<circle cx="485.3" cy="796.8" r="4.9" fill="#6b635e" />
<circle cx="491.1" cy="801.5" r="4.9" fill="#6b635e" />
<circle cx="480.7" cy="814.1" r="4.9" fill="#6b635e" />
<circle cx="524.5" cy="747.2" r="4.9" fill="#6b635e" />
<circle cx="538.4" cy="750.7" r="4.9" fill="#6b635e" />
<circle cx="543.0" cy="763.4" r="4.9" fill="#6b635e" />
<circle cx="518.8" cy="778.4" r="4.9" fill="#6b635e" />
<circle cx="526.4" cy="788.8" r="4.9" fill="#6b635e" />
<circle cx="531.0" cy="808.4" r="4.9" fill="#6b635e" />
<circle cx="582.2" cy="658.4" r="4.9" fill="#6b635e" />
<circle cx="571.8" cy="687.3" r="4.9" fill="#6b635e" />
<circle cx="593.3" cy="688.0" r="4.9" fill="#6b635e" />
<circle cx="575.3" cy="731.1" r="4.9" fill="#6b635e" />
<circle cx="582.2" cy="748.4" r="4.9" fill="#6b635e" />
<circle cx="575.8" cy="764.1" r="4.9" fill="#6b635e" />
<circle cx="640.6" cy="642.7" r="4.9" fill="#6b635e" />
<circle cx="622.6" cy="670.7" r="4.9" fill="#6b635e" />
<circle cx="633.4" cy="678.0" r="4.9" fill="#6b635e" />
<circle cx="633.4" cy="705.7" r="4.9" fill="#6b635e" />
<circle cx="627.2" cy="717.9" r="4.9" fill="#6b635e" />
<circle cx="633.4" cy="751.9" r="4.9" fill="#6b635e" />
<circle cx="387.3" cy="819.9" r="4.9" fill="#6b635e" />
<rect x="363.1" y="819.9" width="9.2" height="9.2" fill="#ef7b7b"/>
<rect x="373.5" y="821.1" width="9.2" height="9.2" fill="#ef7b7b"/>
<rect x="383.8" y="819.9" width="9.2" height="9.2" fill="#ef7b7b"/>
<rect x="415.0" y="806.1" width="9.2" height="9.2" fill="#ef7b7b"/>
<rect x="427.7" y="811.8" width="9.2" height="9.2" fill="#ef7b7b"/>
<rect x="434.6" y="808.4" width="9.2" height="9.2" fill="#ef7b7b"/>
<rect x="419.6" y="811.8" width="9.2" height="9.2" fill="#ef7b7b"/>
<rect x="464.6" y="794.5" width="9.2" height="9.2" fill="#ef7b7b"/>
<rect x="471.5" y="800.3" width="9.2" height="9.2" fill="#ef7b7b"/>
<rect x="486.5" y="787.6" width="9.2" height="9.2" fill="#ef7b7b"/>
<rect x="487.6" y="798.0" width="9.2" height="9.2" fill="#ef7b7b"/>
<rect x="476.1" y="802.6" width="9.2" height="9.2" fill="#ef7b7b"/>
<rect x="483.0" y="803.8" width="9.2" height="9.2" fill="#ef7b7b"/>
<rect x="516.5" y="753.0" width="9.2" height="9.2" fill="#ef7b7b"/>
<rect x="526.9" y="763.4" width="9.2" height="9.2" fill="#ef7b7b"/>
<rect x="533.8" y="766.9" width="9.2" height="9.2" fill="#ef7b7b"/>
<rect x="539.6" y="774.9" width="9.2" height="9.2" fill="#ef7b7b"/>
<rect x="531.0" y="785.3" width="9.2" height="9.2" fill="#ef7b7b"/>
<rect x="519.9" y="768.0" width="9.2" height="9.2" fill="#ef7b7b"/>
<rect x="571.2" y="672.7" width="9.2" height="9.2" fill="#ef7b7b"/>
<rect x="585.0" y="680.4" width="9.2" height="9.2" fill="#ef7b7b"/>
<rect x="581.1" y="704.6" width="9.2" height="9.2" fill="#ef7b7b"/>
<rect x="584.5" y="719.6" width="9.2" height="9.2" fill="#ef7b7b"/>
<rect x="584.5" y="749.6" width="9.2" height="9.2" fill="#ef7b7b"/>
<rect x="622.6" y="642.8" width="9.2" height="9.2" fill="#ef7b7b"/>
<rect x="628.8" y="657.3" width="9.2" height="9.2" fill="#ef7b7b"/>
<rect x="639.9" y="668.8" width="9.2" height="9.2" fill="#ef7b7b"/>
<rect x="623.8" y="681.5" width="9.2" height="9.2" fill="#ef7b7b"/>
<rect x="635.3" y="687.3" width="9.2" height="9.2" fill="#ef7b7b"/>
<rect x="635.7" y="720.7" width="9.2" height="9.2" fill="#ef7b7b"/>
<polyline fill="none" stroke="#1e1e1e" stroke-width="2" points="224.4,832.0 275.6,832.0 326.7,831.0 377.9,824.5 429.1,813.0 480.2,801.0 531.4,772.6 582.6,712.6 633.8,694.2"/>
<polyline fill="none" stroke="#e4453c" stroke-width="2" points="224.4,832.0 275.6,832.0 326.7,830.5 377.9,824.5 429.1,814.0 480.2,801.5 531.4,771.5 582.6,709.9 633.8,681.5"/>
<line x1="514.4" y1="772.6" x2="548.4" y2="772.6" stroke="#1e1e1e" stroke-width="2" />
<line x1="531.4" y1="764.0" x2="531.4" y2="782.0" stroke="#1e1e1e" stroke-width="2" />
<line x1="524.4" y1="764.0" x2="538.4" y2="764.0" stroke="#1e1e1e" stroke-width="2" />
<line x1="524.4" y1="782.0" x2="538.4" y2="782.0" stroke="#1e1e1e" stroke-width="2" />
<line x1="565.6" y1="712.6" x2="599.6" y2="712.6" stroke="#1e1e1e" stroke-width="2" />
<line x1="582.6" y1="697.0" x2="582.6" y2="730.0" stroke="#1e1e1e" stroke-width="2" />
<line x1="575.6" y1="697.0" x2="589.6" y2="697.0" stroke="#1e1e1e" stroke-width="2" />
<line x1="575.6" y1="730.0" x2="589.6" y2="730.0" stroke="#1e1e1e" stroke-width="2" />
<line x1="616.8" y1="694.2" x2="650.8" y2="694.2" stroke="#1e1e1e" stroke-width="2" />
<line x1="633.8" y1="678.0" x2="633.8" y2="710.3" stroke="#1e1e1e" stroke-width="2" />
<line x1="626.8" y1="678.0" x2="640.8" y2="678.0" stroke="#1e1e1e" stroke-width="2" />
<line x1="626.8" y1="710.3" x2="640.8" y2="710.3" stroke="#1e1e1e" stroke-width="2" />
<line x1="417.1" y1="814.0" x2="441.1" y2="814.0" stroke="#e4453c" stroke-width="2" />
<line x1="429.1" y1="811.0" x2="429.1" y2="817.0" stroke="#e4453c" stroke-width="2" />
<line x1="424.1" y1="811.0" x2="434.1" y2="811.0" stroke="#e4453c" stroke-width="2" />
<line x1="424.1" y1="817.0" x2="434.1" y2="817.0" stroke="#e4453c" stroke-width="2" />
<line x1="466.2" y1="801.5" x2="494.2" y2="801.5" stroke="#e4453c" stroke-width="2" />
<line x1="480.2" y1="797.0" x2="480.2" y2="806.0" stroke="#e4453c" stroke-width="2" />
<line x1="474.2" y1="797.0" x2="486.2" y2="797.0" stroke="#e4453c" stroke-width="2" />
<line x1="474.2" y1="806.0" x2="486.2" y2="806.0" stroke="#e4453c" stroke-width="2" />
<line x1="516.4" y1="771.5" x2="546.4" y2="771.5" stroke="#e4453c" stroke-width="2" />
<line x1="531.4" y1="766.0" x2="531.4" y2="777.0" stroke="#e4453c" stroke-width="2" />
<line x1="524.4" y1="766.0" x2="538.4" y2="766.0" stroke="#e4453c" stroke-width="2" />
<line x1="524.4" y1="777.0" x2="538.4" y2="777.0" stroke="#e4453c" stroke-width="2" />
<line x1="565.6" y1="709.9" x2="599.6" y2="709.9" stroke="#e4453c" stroke-width="2" />
<line x1="582.6" y1="697.0" x2="582.6" y2="723.0" stroke="#e4453c" stroke-width="2" />
<line x1="575.6" y1="697.0" x2="589.6" y2="697.0" stroke="#e4453c" stroke-width="2" />
<line x1="575.6" y1="723.0" x2="589.6" y2="723.0" stroke="#e4453c" stroke-width="2" />
<line x1="616.8" y1="681.5" x2="650.8" y2="681.5" stroke="#e4453c" stroke-width="2" />
<line x1="633.8" y1="668.8" x2="633.8" y2="694.0" stroke="#e4453c" stroke-width="2" />
<line x1="626.8" y1="668.8" x2="640.8" y2="668.8" stroke="#e4453c" stroke-width="2" />
<line x1="626.8" y1="694.0" x2="640.8" y2="694.0" stroke="#e4453c" stroke-width="2" />
<text x="373.74" y="795.70" font-size="22" font-weight="normal" fill="#231f20" textLength="63.03" lengthAdjust="spacing">0.5631</text>
<text x="433.74" y="776.00" font-size="22" font-weight="normal" fill="#231f20" textLength="64.20" lengthAdjust="spacing">0.5129</text>
<text x="480.34" y="736.90" font-size="22" font-weight="normal" fill="#231f20" textLength="63.30" lengthAdjust="spacing">0.8744</text>
<text x="539.34" y="648.70" font-size="22" font-weight="normal" fill="#231f20" textLength="63.42" lengthAdjust="spacing">0.8588</text>
<text x="600.54" y="619.20" font-size="22" font-weight="normal" fill="#231f20" textLength="63.32" lengthAdjust="spacing">0.5140</text>
<line x1="824.4" y1="608.8" x2="824.4" y2="830.4" stroke="#231f20" stroke-width="2" />
<line x1="818.2" y1="609.8" x2="824.4" y2="609.8" stroke="#231f20" stroke-width="2" />
<text x="769.36" y="619.10" font-size="30" font-weight="normal" fill="#231f20" textLength="41.70" lengthAdjust="spacing">2.5</text>
<line x1="818.2" y1="653.7" x2="824.4" y2="653.7" stroke="#231f20" stroke-width="2" />
<text x="769.27" y="663.02" font-size="30" font-weight="normal" fill="#231f20" textLength="41.70" lengthAdjust="spacing">2.0</text>
<line x1="818.2" y1="697.6" x2="824.4" y2="697.6" stroke="#231f20" stroke-width="2" />
<text x="769.36" y="706.94" font-size="30" font-weight="normal" fill="#231f20" textLength="41.70" lengthAdjust="spacing">1.5</text>
<line x1="818.2" y1="741.6" x2="824.4" y2="741.6" stroke="#231f20" stroke-width="2" />
<text x="769.27" y="750.86" font-size="30" font-weight="normal" fill="#231f20" textLength="41.70" lengthAdjust="spacing">1.0</text>
<line x1="818.2" y1="785.5" x2="824.4" y2="785.5" stroke="#231f20" stroke-width="2" />
<text x="769.36" y="794.78" font-size="30" font-weight="normal" fill="#231f20" textLength="41.70" lengthAdjust="spacing">0.5</text>
<line x1="818.2" y1="829.4" x2="824.4" y2="829.4" stroke="#231f20" stroke-width="2" />
<text x="769.27" y="838.70" font-size="30" font-weight="normal" fill="#231f20" textLength="41.70" lengthAdjust="spacing">0.0</text>
<line x1="818.2" y1="829.4" x2="963.0" y2="829.4" stroke="#231f20" stroke-width="2" />
<line x1="858.6" y1="829.4" x2="858.6" y2="835.0" stroke="#231f20" stroke-width="2" />
<line x1="927.6" y1="829.4" x2="927.6" y2="835.0" stroke="#231f20" stroke-width="2" />
<g transform="translate(739.40 853.02) rotate(-90)"><text x="0" y="0" font-size="29.5" font-weight="normal" fill="#231f20" textLength="272.05" lengthAdjust="spacing">Breast tumor size (g)</text></g>
<g transform="translate(867.65 855.45) rotate(-37)"><text x="0" y="0" text-anchor="end" font-size="28.7" fill="#231f20" textLength="107.61" lengthAdjust="spacing">+Ctrl Ab</text></g>
<g transform="translate(936.45 853.80) rotate(-37)"><text x="0" y="0" text-anchor="end" font-size="28.7" fill="#231f20" textLength="147.41" lengthAdjust="spacing">+TSLP Ab</text></g>
<text x="864.94" y="604.10" font-size="22" font-weight="normal" fill="#231f20" textLength="62.10" lengthAdjust="spacing">0.2984</text>
<line x1="867.2" y1="613.2" x2="930.8" y2="613.2" stroke="#231f20" stroke-width="3" />
<circle cx="858.6" cy="637.0" r="5.3" fill="#1e1e1e" />
<circle cx="858.6" cy="671.1" r="5.3" fill="#1e1e1e" />
<circle cx="858.6" cy="724.9" r="5.3" fill="#1e1e1e" />
<circle cx="858.6" cy="740.5" r="5.3" fill="#1e1e1e" />
<circle cx="852.0" cy="753.8" r="5.3" fill="#1e1e1e" />
<circle cx="865.6" cy="753.4" r="5.3" fill="#1e1e1e" />
<line x1="836.1" y1="712.9" x2="881.1" y2="712.9" stroke="#1e1e1e" stroke-width="2" />
<line x1="858.6" y1="693.9" x2="858.6" y2="733.3" stroke="#1e1e1e" stroke-width="2" />
<line x1="847.9" y1="693.9" x2="869.3" y2="693.9" stroke="#1e1e1e" stroke-width="2" />
<line x1="847.9" y1="733.3" x2="869.3" y2="733.3" stroke="#1e1e1e" stroke-width="2" />
<rect x="915.0" y="718.0" width="11.5" height="11.5" fill="#e03a3a"/>
<rect x="928.0" y="725.2" width="11.5" height="11.5" fill="#e03a3a"/>
<rect x="904.8" y="731.0" width="11.5" height="11.5" fill="#e03a3a"/>
<rect x="938.4" y="730.0" width="11.5" height="11.5" fill="#e03a3a"/>
<rect x="927.5" y="732.9" width="11.5" height="11.5" fill="#e03a3a"/>
<rect x="915.0" y="737.5" width="11.5" height="11.5" fill="#e03a3a"/>
<line x1="913.0" y1="734.8" x2="928.0" y2="734.8" stroke="#f6b0b0" stroke-width="1.5" />
<defs>
<filter id="blur1" x="-50%" y="-50%" width="200%" height="200%"><feGaussianBlur stdDeviation="1.6"/></filter>
<filter id="blur05" x="-20%" y="-20%" width="140%" height="140%"><feGaussianBlur stdDeviation="0.6"/></filter>
<filter id="blur3" x="-50%" y="-50%" width="200%" height="200%"><feGaussianBlur stdDeviation="1.2"/></filter>
<linearGradient id="monog" x1="0" y1="0" x2="0.3" y2="1"><stop offset="0" stop-color="#b4cdee"/><stop offset="1" stop-color="#4a82cc"/></linearGradient>
<linearGradient id="cilg" x1="0" y1="0" x2="0" y2="1"><stop offset="0" stop-color="#e6eaf4"/><stop offset="0.4" stop-color="#d6def0"/><stop offset="1" stop-color="#c6d6ee"/></linearGradient>
<linearGradient id="basg" x1="0" y1="0" x2="0" y2="1"><stop offset="0" stop-color="#6a645e"/><stop offset="0.15" stop-color="#a8a09a"/><stop offset="1" stop-color="#9a928b"/></linearGradient>
</defs>
<g><path d="M154.1,1392.0 C154.4,1382.3 155.0,1357.0 155.9,1347.9 C156.8,1338.8 156.8,1341.1 159.4,1337.3 C162.0,1333.5 169.4,1328.8 171.8,1325.0 C174.1,1321.2 171.2,1317.9 173.5,1314.4 C175.9,1310.9 181.2,1307.3 185.9,1303.8 C190.6,1300.3 196.4,1295.3 201.7,1293.2 C207.0,1291.2 211.4,1291.8 217.6,1291.5 C223.8,1291.2 232.9,1292.3 238.8,1291.5 C244.7,1290.6 247.9,1287.9 252.9,1286.2 C257.9,1284.4 262.6,1282.3 268.8,1280.9 C274.9,1279.4 282.0,1277.9 289.9,1277.3 C297.9,1276.8 308.5,1276.9 316.4,1277.3 C324.3,1277.8 331.7,1277.3 337.6,1280.0 C343.4,1282.6 347.0,1288.1 351.7,1293.2 C356.4,1298.4 362.6,1305.6 365.8,1310.9 C369.0,1316.2 368.7,1318.5 371.1,1325.0 C373.4,1331.4 377.8,1342.0 379.9,1349.7 C382.0,1357.3 382.8,1362.9 383.4,1370.8 C384.0,1378.8 383.6,1388.5 383.4,1397.3 C383.3,1406.1 383.1,1414.9 382.5,1423.8 C382.0,1432.6 380.9,1443.7 379.9,1450.2 C378.9,1456.7 379.3,1459.0 376.4,1462.6 C373.4,1466.1 367.8,1468.2 362.3,1471.4 C356.7,1474.6 349.0,1477.6 342.9,1482.0 C336.7,1486.4 331.1,1494.3 325.2,1497.8 C319.3,1501.4 313.5,1502.3 307.6,1503.1 C301.7,1504.0 297.3,1503.3 289.9,1503.1 C282.6,1503.0 272.0,1502.5 263.5,1502.3 C255.0,1502.0 246.1,1502.4 238.8,1501.4 C231.4,1500.3 226.1,1497.6 219.4,1496.1 C212.6,1494.6 203.8,1495.8 198.2,1492.6 C192.6,1489.3 189.7,1481.7 185.9,1476.7 C182.0,1471.7 178.5,1467.0 175.3,1462.6 C172.0,1458.2 169.4,1456.7 166.5,1450.2 C163.5,1443.7 159.7,1431.1 157.6,1423.8 C155.6,1416.4 154.7,1411.4 154.1,1406.1 C153.5,1400.8 153.8,1401.7 154.1,1392.0 Z" fill="#f9e2e3" stroke="#c2b0d6" stroke-width="2.2" vector-effect="non-scaling-stroke"/>
<g filter="url(#blur3)">
<circle cx="324.3" cy="1297.6" r="7.6" fill="#d8d0e7" />
<circle cx="244.1" cy="1315.3" r="7.6" fill="#d8d0e7" />
<circle cx="189.4" cy="1363.8" r="7.6" fill="#d8d0e7" />
<circle cx="358.7" cy="1342.6" r="7.6" fill="#d8d0e7" />
<circle cx="312.0" cy="1389.4" r="7.6" fill="#d8d0e7" />
<circle cx="361.4" cy="1412.3" r="7.6" fill="#d8d0e7" />
<circle cx="336.7" cy="1421.1" r="7.6" fill="#d8d0e7" />
<circle cx="186.7" cy="1425.5" r="7.6" fill="#d8d0e7" />
<circle cx="319.0" cy="1444.9" r="7.6" fill="#d8d0e7" />
<circle cx="216.7" cy="1474.9" r="7.6" fill="#d8d0e7" />
</g>
<path d="M214.8,1343.8 L231.6,1337.4 L249.6,1330.9 L263.8,1323.2 L278.0,1315.5 L293.4,1312.2 L308.9,1313.5 L321.8,1318.0 L334.7,1323.8 L343.7,1336.1 L350.1,1349.0 L352.7,1361.9 L353.4,1374.8 L351.4,1383.8 L341.1,1385.7 L328.2,1383.8 L319.2,1377.3 L314.1,1364.4 L303.7,1355.4 L290.9,1350.3 L278.0,1345.1 L259.9,1342.5 L249.6,1344.5 L247.7,1350.9 L249.6,1355.4 L259.9,1361.9 L270.2,1369.6 L283.1,1379.9 L293.4,1388.9 L299.9,1396.7 L302.5,1409.6 L301.8,1422.5 L298.6,1427.6 L283.1,1428.3 L270.2,1427.0 L263.8,1418.6 L257.3,1408.3 L252.2,1403.1 L248.3,1407.0 L245.7,1416.0 L243.2,1428.9 L241.9,1441.8 L240.6,1454.7 L236.7,1459.8 L223.8,1461.1 L212.2,1458.5 L203.2,1450.8 L199.3,1435.3 L198.0,1416.0 L200.6,1392.8 L205.8,1374.8 L210.9,1361.9 L214.2,1351.6 Z" fill="#7f3f98" stroke="#7f3f98" stroke-width="1" stroke-linejoin="round" filter="url(#blur05)"/></g>
<line x1="272.6" y1="1491.7" x2="272.6" y2="1458.0" stroke="#5a5a5a" stroke-width="2" />
<path d="M272.6,1446.7 L266.8,1460 L278.4,1460 Z" fill="#1a1a1a"/>
<circle cx="245.5" cy="1488.7" r="3.4" fill="#c8202a" />
<g filter="url(#blur05)"><path d="M291.5,1492.5 L306.5,1492 L305.5,1505 L304,1520 L303.5,1538 L291.5,1538.5 Z" fill="#f4a04a"/><path d="M310,1488 L322.5,1488.5 L323,1500 L321,1512 L320.5,1530 L320,1542 L309,1542 L307.5,1525 L305,1515 L307,1502 Z" fill="#a6c45e"/><rect x="303.2" y="1532.2" width="6.7" height="6.8" fill="#1a120e"/></g>
<g transform="translate(913.8 1265.5) scale(0.518) translate(-153.6 -1276.5)"><path d="M154.1,1392.0 C154.4,1382.3 155.0,1357.0 155.9,1347.9 C156.8,1338.8 156.8,1341.1 159.4,1337.3 C162.0,1333.5 169.4,1328.8 171.8,1325.0 C174.1,1321.2 171.2,1317.9 173.5,1314.4 C175.9,1310.9 181.2,1307.3 185.9,1303.8 C190.6,1300.3 196.4,1295.3 201.7,1293.2 C207.0,1291.2 211.4,1291.8 217.6,1291.5 C223.8,1291.2 232.9,1292.3 238.8,1291.5 C244.7,1290.6 247.9,1287.9 252.9,1286.2 C257.9,1284.4 262.6,1282.3 268.8,1280.9 C274.9,1279.4 282.0,1277.9 289.9,1277.3 C297.9,1276.8 308.5,1276.9 316.4,1277.3 C324.3,1277.8 331.7,1277.3 337.6,1280.0 C343.4,1282.6 347.0,1288.1 351.7,1293.2 C356.4,1298.4 362.6,1305.6 365.8,1310.9 C369.0,1316.2 368.7,1318.5 371.1,1325.0 C373.4,1331.4 377.8,1342.0 379.9,1349.7 C382.0,1357.3 382.8,1362.9 383.4,1370.8 C384.0,1378.8 383.6,1388.5 383.4,1397.3 C383.3,1406.1 383.1,1414.9 382.5,1423.8 C382.0,1432.6 380.9,1443.7 379.9,1450.2 C378.9,1456.7 379.3,1459.0 376.4,1462.6 C373.4,1466.1 367.8,1468.2 362.3,1471.4 C356.7,1474.6 349.0,1477.6 342.9,1482.0 C336.7,1486.4 331.1,1494.3 325.2,1497.8 C319.3,1501.4 313.5,1502.3 307.6,1503.1 C301.7,1504.0 297.3,1503.3 289.9,1503.1 C282.6,1503.0 272.0,1502.5 263.5,1502.3 C255.0,1502.0 246.1,1502.4 238.8,1501.4 C231.4,1500.3 226.1,1497.6 219.4,1496.1 C212.6,1494.6 203.8,1495.8 198.2,1492.6 C192.6,1489.3 189.7,1481.7 185.9,1476.7 C182.0,1471.7 178.5,1467.0 175.3,1462.6 C172.0,1458.2 169.4,1456.7 166.5,1450.2 C163.5,1443.7 159.7,1431.1 157.6,1423.8 C155.6,1416.4 154.7,1411.4 154.1,1406.1 C153.5,1400.8 153.8,1401.7 154.1,1392.0 Z" fill="#f9e2e3" stroke="#c2b0d6" stroke-width="2.2" vector-effect="non-scaling-stroke"/>
<g filter="url(#blur3)">
<circle cx="324.3" cy="1297.6" r="7.6" fill="#d8d0e7" />
<circle cx="244.1" cy="1315.3" r="7.6" fill="#d8d0e7" />
<circle cx="189.4" cy="1363.8" r="7.6" fill="#d8d0e7" />
<circle cx="358.7" cy="1342.6" r="7.6" fill="#d8d0e7" />
<circle cx="312.0" cy="1389.4" r="7.6" fill="#d8d0e7" />
<circle cx="361.4" cy="1412.3" r="7.6" fill="#d8d0e7" />
<circle cx="336.7" cy="1421.1" r="7.6" fill="#d8d0e7" />
<circle cx="186.7" cy="1425.5" r="7.6" fill="#d8d0e7" />
<circle cx="319.0" cy="1444.9" r="7.6" fill="#d8d0e7" />
<circle cx="216.7" cy="1474.9" r="7.6" fill="#d8d0e7" />
</g>
<path d="M214.8,1343.8 L231.6,1337.4 L249.6,1330.9 L263.8,1323.2 L278.0,1315.5 L293.4,1312.2 L308.9,1313.5 L321.8,1318.0 L334.7,1323.8 L343.7,1336.1 L350.1,1349.0 L352.7,1361.9 L353.4,1374.8 L351.4,1383.8 L341.1,1385.7 L328.2,1383.8 L319.2,1377.3 L314.1,1364.4 L303.7,1355.4 L290.9,1350.3 L278.0,1345.1 L259.9,1342.5 L249.6,1344.5 L247.7,1350.9 L249.6,1355.4 L259.9,1361.9 L270.2,1369.6 L283.1,1379.9 L293.4,1388.9 L299.9,1396.7 L302.5,1409.6 L301.8,1422.5 L298.6,1427.6 L283.1,1428.3 L270.2,1427.0 L263.8,1418.6 L257.3,1408.3 L252.2,1403.1 L248.3,1407.0 L245.7,1416.0 L243.2,1428.9 L241.9,1441.8 L240.6,1454.7 L236.7,1459.8 L223.8,1461.1 L212.2,1458.5 L203.2,1450.8 L199.3,1435.3 L198.0,1416.0 L200.6,1392.8 L205.8,1374.8 L210.9,1361.9 L214.2,1351.6 Z" fill="#7f3f98" stroke="#7f3f98" stroke-width="1" stroke-linejoin="round" filter="url(#blur05)"/></g>
<path d="M756.7,1397.8 C757.6,1388.8 758.4,1372.6 762.8,1363.9 C767.2,1355.1 774.1,1349.7 783.2,1345.2 C792.2,1340.7 804.7,1338.4 817.1,1336.7 C829.5,1335.0 847.6,1333.9 857.8,1335.0 C868.0,1336.2 872.8,1337.6 878.2,1343.5 C883.5,1349.5 887.5,1360.5 890.0,1370.7 C892.6,1380.8 893.1,1393.8 893.4,1404.6 C893.7,1415.3 894.3,1426.9 891.7,1435.1 C889.2,1443.3 884.9,1449.0 878.2,1453.8 C871.4,1458.6 861.2,1461.7 851.0,1463.9 C840.8,1466.2 827.3,1468.2 817.1,1467.3 C806.9,1466.5 798.4,1463.7 790.0,1458.9 C781.5,1454.1 771.6,1445.3 766.2,1438.5 C760.8,1431.7 759.3,1424.9 757.7,1418.2 C756.2,1411.4 755.9,1406.8 756.7,1397.8 Z" fill="#fce6e6" stroke="#f07a7a" stroke-width="2.4"/>
<path d="M790.0,1380.8 C791.9,1377.2 796.7,1371.8 803.5,1369.0 C810.3,1366.1 821.1,1364.6 830.7,1363.9 C840.3,1363.1 854.4,1362.3 861.2,1364.6 C868.0,1366.8 868.8,1371.3 871.4,1377.4 C873.9,1383.6 875.2,1394.1 876.5,1401.2 C877.7,1408.3 881.9,1416.6 878.8,1419.9 C875.7,1423.1 863.9,1421.4 857.8,1420.9 C851.8,1420.3 846.5,1418.9 842.5,1416.5 C838.6,1414.0 838.3,1408.8 834.1,1406.3 C829.8,1403.7 823.0,1402.6 817.1,1401.2 C811.2,1399.8 802.7,1399.5 798.4,1397.8 C794.2,1396.1 793.1,1393.8 791.7,1391.0 C790.2,1388.2 788.0,1384.5 790.0,1380.8 Z" fill="url(#monog)"/>
<g><path d="M169.8,1690.8 L177.1,1685.5 L208.9,1684.0 L252.8,1684.7 L274.8,1678.6 L296.8,1668.9 L326.1,1656.6 L350.5,1644.4 L370.1,1634.7 L376.2,1630.3 L374.5,1637.1 L374.9,1656.6 L379.8,1668.9 L394.5,1683.5 L411.6,1695.7 L428.7,1706.7 L443.3,1717.7 L460.4,1729.9 L482.4,1737.2 L508.1,1740.2 L492.2,1744.6 L475.1,1754.3 L464.1,1766.6 L460.4,1781.2 L462.9,1800.8 L470.2,1815.4 L473.9,1824.0 L470.2,1830.1 L453.1,1844.7 L436.0,1859.4 L418.9,1874.0 L404.3,1896.0 L389.6,1913.1 L374.9,1927.8 L360.3,1937.5 L345.6,1932.7 L331.0,1922.9 L316.3,1913.1 L296.8,1907.0 L277.2,1910.7 L262.6,1920.4 L243.0,1925.3 L223.5,1927.8 L211.3,1931.4 L204.0,1920.4 L196.6,1908.2 L191.8,1888.7 L189.3,1866.7 L193.0,1854.5 L208.9,1842.3 L223.5,1830.1 L235.7,1815.4 L244.3,1800.8 L238.2,1797.1 L221.1,1793.4 L204.0,1788.5 L189.3,1776.3 L179.5,1756.8 L177.1,1737.2 L173.4,1712.8 L169.8,1698.2 Z" fill="#f4f3e2" stroke="#5a6430" stroke-width="1.5" stroke-linejoin="round" vector-effect="non-scaling-stroke"/></g>
<g><path d="M317.5,1787.3 C319.2,1784.5 326.9,1784.7 331.0,1783.7 C335.1,1782.6 339.1,1783.0 342.0,1781.2 C344.8,1779.4 345.0,1775.1 348.1,1772.7 C351.1,1770.2 355.8,1767.4 360.3,1766.6 C364.8,1765.7 370.1,1766.1 374.9,1767.8 C379.8,1769.4 386.1,1772.5 389.6,1776.3 C393.1,1780.2 394.5,1785.7 395.7,1791.0 C396.9,1796.3 397.5,1803.2 396.9,1808.1 C396.3,1813.0 394.9,1817.4 392.0,1820.3 C389.2,1823.1 383.5,1823.8 379.8,1825.2 C376.2,1826.6 372.5,1826.8 370.1,1828.8 C367.6,1830.9 368.0,1835.2 365.2,1837.4 C362.3,1839.6 356.2,1841.5 353.0,1842.3 C349.7,1843.1 348.5,1843.9 345.6,1842.3 C342.8,1840.6 338.7,1836.6 335.9,1832.5 C333.0,1828.4 331.0,1823.1 328.5,1817.9 C326.1,1812.6 323.0,1805.8 321.2,1800.8 C319.4,1795.7 315.9,1790.2 317.5,1787.3 Z" fill="#f6f6ea" stroke="#3aa84a" stroke-width="1.7" vector-effect="non-scaling-stroke"/></g>
<g filter="url(#blur1)">
<ellipse cx="354.1" cy="1802.6" rx="10.100000000000001" ry="15.3" fill="#4a5aa8" transform="rotate(10 354.1 1802.6)"/>
<ellipse cx="376.2" cy="1794.1" rx="10.600000000000001" ry="15.3" fill="#4a5aa8" transform="rotate(12 376.2 1794.1)"/>
</g>
<ellipse cx="354.1" cy="1802.6" rx="8.3" ry="13.5" fill="#161018" transform="rotate(10 354.1 1802.6)"/>
<ellipse cx="376.2" cy="1794.1" rx="8.8" ry="13.5" fill="#161018" transform="rotate(12 376.2 1794.1)"/>
<g transform="translate(1062.1 1668.3) scale(0.735 0.765) translate(-169.8 -1690)"><path d="M169.8,1690.8 L177.1,1685.5 L208.9,1684.0 L252.8,1684.7 L274.8,1678.6 L296.8,1668.9 L326.1,1656.6 L350.5,1644.4 L370.1,1634.7 L376.2,1630.3 L374.5,1637.1 L374.9,1656.6 L379.8,1668.9 L394.5,1683.5 L411.6,1695.7 L428.7,1706.7 L443.3,1717.7 L460.4,1729.9 L475.1,1754.3 L464.1,1766.6 L460.4,1781.2 L462.9,1800.8 L470.2,1815.4 L473.9,1824.0 L470.2,1830.1 L453.1,1844.7 L436.0,1859.4 L418.9,1874.0 L404.3,1896.0 L389.6,1913.1 L374.9,1927.8 L360.3,1937.5 L345.6,1932.7 L331.0,1922.9 L316.3,1913.1 L296.8,1907.0 L277.2,1910.7 L262.6,1920.4 L243.0,1925.3 L223.5,1927.8 L211.3,1931.4 L204.0,1920.4 L196.6,1908.2 L191.8,1888.7 L189.3,1866.7 L193.0,1854.5 L208.9,1842.3 L223.5,1830.1 L235.7,1815.4 L244.3,1800.8 L238.2,1797.1 L221.1,1793.4 L204.0,1788.5 L189.3,1776.3 L179.5,1756.8 L177.1,1737.2 L173.4,1712.8 L169.8,1698.2 Z" fill="#f4f3e2" stroke="#5a6430" stroke-width="1.5" stroke-linejoin="round" vector-effect="non-scaling-stroke"/></g>
<g transform="translate(1152.7 1725) scale(0.75) translate(-317.5 -1766.6)"><path d="M317.5,1787.3 C319.2,1784.5 326.9,1784.7 331.0,1783.7 C335.1,1782.6 339.1,1783.0 342.0,1781.2 C344.8,1779.4 345.0,1775.1 348.1,1772.7 C351.1,1770.2 355.8,1767.4 360.3,1766.6 C364.8,1765.7 370.1,1766.1 374.9,1767.8 C379.8,1769.4 386.1,1772.5 389.6,1776.3 C393.1,1780.2 394.5,1785.7 395.7,1791.0 C396.9,1796.3 397.5,1803.2 396.9,1808.1 C396.3,1813.0 394.9,1817.4 392.0,1820.3 C389.2,1823.1 383.5,1823.8 379.8,1825.2 C376.2,1826.6 372.5,1826.8 370.1,1828.8 C367.6,1830.9 368.0,1835.2 365.2,1837.4 C362.3,1839.6 356.2,1841.5 353.0,1842.3 C349.7,1843.1 348.5,1843.9 345.6,1842.3 C342.8,1840.6 338.7,1836.6 335.9,1832.5 C333.0,1828.4 331.0,1823.1 328.5,1817.9 C326.1,1812.6 323.0,1805.8 321.2,1800.8 C319.4,1795.7 315.9,1790.2 317.5,1787.3 Z" fill="#f6f6ea" stroke="#3aa84a" stroke-width="1.7" vector-effect="non-scaling-stroke"/></g>
<g filter="url(#blur1)">
<ellipse cx="1188.7" cy="1743.5" rx="6.6" ry="9.8" fill="#4a5aa8" transform="rotate(18 1188.7 1743.5)"/>
<ellipse cx="1181.9" cy="1762.5" rx="6.6" ry="9.8" fill="#4a5aa8" transform="rotate(18 1181.9 1762.5)"/>
</g>
<ellipse cx="1188.7" cy="1743.5" rx="4.8" ry="8" fill="#161018" transform="rotate(18 1188.7 1743.5)"/>
<ellipse cx="1181.9" cy="1762.5" rx="4.8" ry="8" fill="#161018" transform="rotate(18 1181.9 1762.5)"/>
<path d="M1074,1652 L1122,1652 L1122,1676 L1074,1676 Z M1238,1680 L1262,1680 L1286,1702 L1280,1714 L1238,1710 Z" fill="#f4f3e2"/>
<g transform="translate(1150.3 1522.5) scale(0.757 0.764) translate(-169.8 -1690)"><path d="M169.8,1690.8 L177.1,1685.5 L208.9,1684.0 L252.8,1684.7 L274.8,1678.6 L296.8,1668.9 L326.1,1656.6 L350.5,1644.4 L370.1,1634.7 L376.2,1630.3 L374.5,1637.1 L374.9,1656.6 L379.8,1668.9 L394.5,1683.5 L411.6,1695.7 L428.7,1706.7 L443.3,1717.7 L460.4,1729.9 L482.4,1737.2 L508.1,1740.2 L492.2,1744.6 L475.1,1754.3 L464.1,1766.6 L460.4,1781.2 L462.9,1800.8 L470.2,1815.4 L473.9,1824.0 L470.2,1830.1 L453.1,1844.7 L436.0,1859.4 L418.9,1874.0 L404.3,1896.0 L389.6,1913.1 L374.9,1927.8 L360.3,1937.5 L345.6,1932.7 L331.0,1922.9 L316.3,1913.1 L296.8,1907.0 L277.2,1910.7 L262.6,1920.4 L243.0,1925.3 L223.5,1927.8 L211.3,1931.4 L204.0,1920.4 L196.6,1908.2 L191.8,1888.7 L189.3,1866.7 L193.0,1854.5 L208.9,1842.3 L223.5,1830.1 L235.7,1815.4 L244.3,1800.8 L238.2,1797.1 L221.1,1793.4 L204.0,1788.5 L189.3,1776.3 L179.5,1756.8 L177.1,1737.2 L173.4,1712.8 L169.8,1698.2 Z" fill="#f4f3e2" stroke="#5a6430" stroke-width="1.5" stroke-linejoin="round" vector-effect="non-scaling-stroke"/></g>
<g transform="translate(1273 1595) scale(0.75) translate(-317.5 -1766.6)"><path d="M317.5,1787.3 C319.2,1784.5 326.9,1784.7 331.0,1783.7 C335.1,1782.6 339.1,1783.0 342.0,1781.2 C344.8,1779.4 345.0,1775.1 348.1,1772.7 C351.1,1770.2 355.8,1767.4 360.3,1766.6 C364.8,1765.7 370.1,1766.1 374.9,1767.8 C379.8,1769.4 386.1,1772.5 389.6,1776.3 C393.1,1780.2 394.5,1785.7 395.7,1791.0 C396.9,1796.3 397.5,1803.2 396.9,1808.1 C396.3,1813.0 394.9,1817.4 392.0,1820.3 C389.2,1823.1 383.5,1823.8 379.8,1825.2 C376.2,1826.6 372.5,1826.8 370.1,1828.8 C367.6,1830.9 368.0,1835.2 365.2,1837.4 C362.3,1839.6 356.2,1841.5 353.0,1842.3 C349.7,1843.1 348.5,1843.9 345.6,1842.3 C342.8,1840.6 338.7,1836.6 335.9,1832.5 C333.0,1828.4 331.0,1823.1 328.5,1817.9 C326.1,1812.6 323.0,1805.8 321.2,1800.8 C319.4,1795.7 315.9,1790.2 317.5,1787.3 Z" fill="#f6f6ea" stroke="#3aa84a" stroke-width="1.7" vector-effect="non-scaling-stroke"/></g>
<g filter="url(#blur1)">
<ellipse cx="1309.4" cy="1613.0" rx="6.6" ry="9.8" fill="#4a5aa8" transform="rotate(18 1309.4 1613.0)"/>
<ellipse cx="1302.1" cy="1635.5" rx="6.6" ry="9.8" fill="#4a5aa8" transform="rotate(18 1302.1 1635.5)"/>
</g>
<ellipse cx="1309.4" cy="1613.0" rx="4.8" ry="8" fill="#161018" transform="rotate(18 1309.4 1613.0)"/>
<ellipse cx="1302.1" cy="1635.5" rx="4.8" ry="8" fill="#161018" transform="rotate(18 1302.1 1635.5)"/>
<g transform="translate(1003.1 1497.8) scale(0.737 0.765) translate(-169.8 -1690)"><path d="M169.8,1690.8 L177.1,1685.5 L208.9,1684.0 L252.8,1684.7 L274.8,1678.6 L296.8,1668.9 L326.1,1656.6 L350.5,1644.4 L370.1,1634.7 L376.2,1630.3 L374.5,1637.1 L374.9,1656.6 L379.8,1668.9 L394.5,1683.5 L411.6,1695.7 L428.7,1706.7 L443.3,1717.7 L460.4,1729.9 L482.4,1737.2 L508.1,1740.2 L492.2,1744.6 L475.1,1754.3 L464.1,1766.6 L460.4,1781.2 L462.9,1800.8 L470.2,1815.4 L473.9,1824.0 L470.2,1830.1 L453.1,1844.7 L436.0,1859.4 L418.9,1874.0 L404.3,1896.0 L389.6,1913.1 L374.9,1927.8 L360.3,1937.5 L345.6,1932.7 L331.0,1922.9 L316.3,1913.1 L296.8,1907.0 L277.2,1910.7 L262.6,1920.4 L243.0,1925.3 L223.5,1927.8 L211.3,1931.4 L204.0,1920.4 L196.6,1908.2 L191.8,1888.7 L189.3,1866.7 L193.0,1854.5 L208.9,1842.3 L223.5,1830.1 L235.7,1815.4 L244.3,1800.8 L238.2,1797.1 L221.1,1793.4 L204.0,1788.5 L189.3,1776.3 L179.5,1756.8 L177.1,1737.2 L173.4,1712.8 L169.8,1698.2 Z" fill="#f4f3e2" stroke="#5a6430" stroke-width="1.5" stroke-linejoin="round" vector-effect="non-scaling-stroke"/></g>
<g transform="translate(1077.5 1586.3) scale(0.75) translate(-317.5 -1766.6)"><path d="M317.5,1787.3 C319.2,1784.5 326.9,1784.7 331.0,1783.7 C335.1,1782.6 339.1,1783.0 342.0,1781.2 C344.8,1779.4 345.0,1775.1 348.1,1772.7 C351.1,1770.2 355.8,1767.4 360.3,1766.6 C364.8,1765.7 370.1,1766.1 374.9,1767.8 C379.8,1769.4 386.1,1772.5 389.6,1776.3 C393.1,1780.2 394.5,1785.7 395.7,1791.0 C396.9,1796.3 397.5,1803.2 396.9,1808.1 C396.3,1813.0 394.9,1817.4 392.0,1820.3 C389.2,1823.1 383.5,1823.8 379.8,1825.2 C376.2,1826.6 372.5,1826.8 370.1,1828.8 C367.6,1830.9 368.0,1835.2 365.2,1837.4 C362.3,1839.6 356.2,1841.5 353.0,1842.3 C349.7,1843.1 348.5,1843.9 345.6,1842.3 C342.8,1840.6 338.7,1836.6 335.9,1832.5 C333.0,1828.4 331.0,1823.1 328.5,1817.9 C326.1,1812.6 323.0,1805.8 321.2,1800.8 C319.4,1795.7 315.9,1790.2 317.5,1787.3 Z" fill="#f6f6ea" stroke="#3aa84a" stroke-width="1.7" vector-effect="non-scaling-stroke"/></g>
<g filter="url(#blur1)">
<ellipse cx="1116.9" cy="1602.8" rx="6.6" ry="9.8" fill="#4a5aa8" transform="rotate(18 1116.9 1602.8)"/>
<ellipse cx="1110.2" cy="1621.8" rx="6.6" ry="9.8" fill="#4a5aa8" transform="rotate(18 1110.2 1621.8)"/>
</g>
<ellipse cx="1116.9" cy="1602.8" rx="4.8" ry="8" fill="#161018" transform="rotate(18 1116.9 1602.8)"/>
<ellipse cx="1110.2" cy="1621.8" rx="4.8" ry="8" fill="#161018" transform="rotate(18 1110.2 1621.8)"/>
<g filter="url(#blur05)">
<path d="M252.5,1648.5 L265.0,1648.0 L265.5,1694.5 L252.5,1695.0 Z" fill="#3cb0e2"/>
<path d="M263.0,1645.5 L272.0,1645.2 L279.2,1650.0 L279.8,1662.0 L276.5,1671.0 L275.5,1688.0 L274.0,1701.0 L266.0,1701.0 L265.5,1690.0 L260.0,1684.0 L257.5,1676.0 L259.0,1668.0 L263.5,1662.0 Z" fill="#8a3f9e"/>
<rect x="261.0" y="1641.0" width="7" height="7" rx="1.5" fill="#c8202a"/>
</g>
<g filter="url(#blur05)">
<path d="M1037.3,1459.6 L1049.8,1459.1 L1050.3,1505.6 L1037.3,1506.1 Z" fill="#3cb0e2"/>
<path d="M1047.8,1456.6 L1056.8,1456.3 L1064.0,1461.1 L1064.6,1473.1 L1061.3,1482.1 L1060.3,1499.1 L1058.8,1512.1 L1050.8,1512.1 L1050.3,1501.1 L1044.8,1495.1 L1042.3,1487.1 L1043.8,1479.1 L1048.3,1473.1 Z" fill="#8a3f9e"/>
<rect x="1045.8" y="1452.1" width="7" height="7" rx="1.5" fill="#c8202a"/>
</g>
<g filter="url(#blur05)">
<path d="M1323.3,1489.6 L1335.8,1489.1 L1336.3,1535.6 L1323.3,1536.1 Z" fill="#3cb0e2"/>
<path d="M1333.8,1486.6 L1342.8,1486.3 L1350.0,1491.1 L1350.6,1503.1 L1347.3,1512.1 L1346.3,1529.1 L1344.8,1542.1 L1336.8,1542.1 L1336.3,1531.1 L1330.8,1525.1 L1328.3,1517.1 L1329.8,1509.1 L1334.3,1503.1 Z" fill="#8a3f9e"/>
<rect x="1331.8" y="1482.1" width="7" height="7" rx="1.5" fill="#c8202a"/>
</g>
<g filter="url(#blur05)">
<path d="M1127.3,1820.6 L1139.8,1820.1 L1140.3,1866.6 L1127.3,1867.1 Z" fill="#3cb0e2"/>
<path d="M1137.8,1817.6 L1146.8,1817.3 L1154.0,1822.1 L1154.6,1834.1 L1151.3,1843.1 L1150.3,1860.1 L1148.8,1873.1 L1140.8,1873.1 L1140.3,1862.1 L1134.8,1856.1 L1132.3,1848.1 L1133.8,1840.1 L1138.3,1834.1 Z" fill="#8a3f9e"/>
</g>
<g filter="url(#blur05)">
<rect x="1064.6" y="1284" width="22.5" height="62" fill="url(#cilg)"/>
<rect x="1089.5" y="1284" width="22.5" height="62" fill="url(#cilg)"/>
<rect x="1114.5" y="1284" width="22.5" height="62" fill="url(#cilg)"/>
<rect x="1139.4" y="1284" width="22.5" height="62" fill="url(#cilg)"/>
<rect x="1164.3" y="1284" width="22.5" height="62" fill="url(#cilg)"/>
<rect x="1189.3" y="1284" width="22.5" height="62" fill="url(#cilg)"/>
<rect x="1214.2" y="1284" width="22.5" height="62" fill="url(#cilg)"/>
<rect x="1239.2" y="1284" width="22.5" height="62" fill="url(#cilg)"/>
<rect x="1264.1" y="1284" width="22.5" height="62" fill="url(#cilg)"/>
<rect x="1289.0" y="1284" width="22.5" height="62" fill="url(#cilg)"/>
<rect x="1314.0" y="1284" width="22.5" height="62" fill="url(#cilg)"/>
<rect x="1338.9" y="1284" width="22.5" height="62" fill="url(#cilg)"/>
<rect x="1363.8" y="1284" width="22.5" height="62" fill="url(#cilg)"/>
<rect x="1388.8" y="1284" width="22.5" height="62" fill="url(#cilg)"/>
<rect x="1413.7" y="1284" width="22.5" height="62" fill="url(#cilg)"/>
<rect x="1438.7" y="1284" width="22.5" height="62" fill="url(#cilg)"/>
</g>
<g filter="url(#blur05)" opacity="0.8">
<rect x="1069.6" y="1283" width="1.3" height="22" fill="#ffffff"/>
<rect x="1074.7" y="1283" width="1.3" height="16" fill="#ffffff"/>
<rect x="1080.4" y="1283" width="1.3" height="24" fill="#ffffff"/>
<rect x="1094.5" y="1283" width="1.3" height="22" fill="#ffffff"/>
<rect x="1099.7" y="1283" width="1.3" height="16" fill="#ffffff"/>
<rect x="1105.3" y="1283" width="1.3" height="24" fill="#ffffff"/>
<rect x="1119.4" y="1283" width="1.3" height="22" fill="#ffffff"/>
<rect x="1124.6" y="1283" width="1.3" height="16" fill="#ffffff"/>
<rect x="1130.3" y="1283" width="1.3" height="24" fill="#ffffff"/>
<rect x="1144.4" y="1283" width="1.3" height="22" fill="#ffffff"/>
<rect x="1149.6" y="1283" width="1.3" height="16" fill="#ffffff"/>
<rect x="1155.2" y="1283" width="1.3" height="24" fill="#ffffff"/>
<rect x="1169.3" y="1283" width="1.3" height="22" fill="#ffffff"/>
<rect x="1174.5" y="1283" width="1.3" height="16" fill="#ffffff"/>
<rect x="1180.1" y="1283" width="1.3" height="24" fill="#ffffff"/>
<rect x="1194.2" y="1283" width="1.3" height="22" fill="#ffffff"/>
<rect x="1199.4" y="1283" width="1.3" height="16" fill="#ffffff"/>
<rect x="1205.1" y="1283" width="1.3" height="24" fill="#ffffff"/>
<rect x="1219.2" y="1283" width="1.3" height="22" fill="#ffffff"/>
<rect x="1224.4" y="1283" width="1.3" height="16" fill="#ffffff"/>
<rect x="1230.0" y="1283" width="1.3" height="24" fill="#ffffff"/>
<rect x="1244.1" y="1283" width="1.3" height="22" fill="#ffffff"/>
<rect x="1249.3" y="1283" width="1.3" height="16" fill="#ffffff"/>
<rect x="1254.9" y="1283" width="1.3" height="24" fill="#ffffff"/>
<rect x="1269.1" y="1283" width="1.3" height="22" fill="#ffffff"/>
<rect x="1274.2" y="1283" width="1.3" height="16" fill="#ffffff"/>
<rect x="1279.9" y="1283" width="1.3" height="24" fill="#ffffff"/>
<rect x="1294.0" y="1283" width="1.3" height="22" fill="#ffffff"/>
<rect x="1299.2" y="1283" width="1.3" height="16" fill="#ffffff"/>
<rect x="1304.8" y="1283" width="1.3" height="24" fill="#ffffff"/>
<rect x="1318.9" y="1283" width="1.3" height="22" fill="#ffffff"/>
<rect x="1324.1" y="1283" width="1.3" height="16" fill="#ffffff"/>
<rect x="1329.8" y="1283" width="1.3" height="24" fill="#ffffff"/>
<rect x="1343.9" y="1283" width="1.3" height="22" fill="#ffffff"/>
<rect x="1349.1" y="1283" width="1.3" height="16" fill="#ffffff"/>
<rect x="1354.7" y="1283" width="1.3" height="24" fill="#ffffff"/>
<rect x="1368.8" y="1283" width="1.3" height="22" fill="#ffffff"/>
<rect x="1374.0" y="1283" width="1.3" height="16" fill="#ffffff"/>
<rect x="1379.6" y="1283" width="1.3" height="24" fill="#ffffff"/>
<rect x="1393.7" y="1283" width="1.3" height="22" fill="#ffffff"/>
<rect x="1398.9" y="1283" width="1.3" height="16" fill="#ffffff"/>
<rect x="1404.6" y="1283" width="1.3" height="24" fill="#ffffff"/>
<rect x="1418.7" y="1283" width="1.3" height="22" fill="#ffffff"/>
<rect x="1423.9" y="1283" width="1.3" height="16" fill="#ffffff"/>
<rect x="1429.5" y="1283" width="1.3" height="24" fill="#ffffff"/>
<rect x="1443.6" y="1283" width="1.3" height="22" fill="#ffffff"/>
<rect x="1448.8" y="1283" width="1.3" height="16" fill="#ffffff"/>
<rect x="1454.4" y="1283" width="1.3" height="24" fill="#ffffff"/>
</g>
<g filter="url(#blur3)">
<path d="M1069.6,1343 l0,-11 q1,-7 6.5,-7 q5.5,0 5.5,7 l0,11 z" fill="#4a72b4"/>
<path d="M1094.5,1343 l0,-11 q1,-7 6.5,-7 q5.5,0 5.5,7 l0,11 z" fill="#4a72b4"/>
<path d="M1119.4,1343 l0,-11 q1,-7 6.5,-7 q5.5,0 5.5,7 l0,11 z" fill="#4a72b4"/>
<path d="M1144.4,1343 l0,-11 q1,-7 6.5,-7 q5.5,0 5.5,7 l0,11 z" fill="#4a72b4"/>
<path d="M1169.3,1343 l0,-11 q1,-7 6.5,-7 q5.5,0 5.5,7 l0,11 z" fill="#4a72b4"/>
<path d="M1194.3,1343 l0,-11 q1,-7 6.5,-7 q5.5,0 5.5,7 l0,11 z" fill="#4a72b4"/>
<path d="M1219.2,1343 l0,-11 q1,-7 6.5,-7 q5.5,0 5.5,7 l0,11 z" fill="#4a72b4"/>
<path d="M1244.1,1343 l0,-11 q1,-7 6.5,-7 q5.5,0 5.5,7 l0,11 z" fill="#4a72b4"/>
<path d="M1269.1,1343 l0,-11 q1,-7 6.5,-7 q5.5,0 5.5,7 l0,11 z" fill="#4a72b4"/>
<path d="M1294.0,1343 l0,-11 q1,-7 6.5,-7 q5.5,0 5.5,7 l0,11 z" fill="#4a72b4"/>
<path d="M1318.9,1343 l0,-11 q1,-7 6.5,-7 q5.5,0 5.5,7 l0,11 z" fill="#4a72b4"/>
<path d="M1343.9,1343 l0,-11 q1,-7 6.5,-7 q5.5,0 5.5,7 l0,11 z" fill="#4a72b4"/>
<path d="M1368.8,1343 l0,-11 q1,-7 6.5,-7 q5.5,0 5.5,7 l0,11 z" fill="#4a72b4"/>
<path d="M1393.8,1343 l0,-11 q1,-7 6.5,-7 q5.5,0 5.5,7 l0,11 z" fill="#4a72b4"/>
<path d="M1418.7,1343 l0,-11 q1,-7 6.5,-7 q5.5,0 5.5,7 l0,11 z" fill="#4a72b4"/>
<path d="M1443.6,1343 l0,-11 q1,-7 6.5,-7 q5.5,0 5.5,7 l0,11 z" fill="#4a72b4"/>
</g>
<rect x="1064.6" y="1346" width="33.3" height="23" rx="1.5" fill="url(#basg)" stroke="#2a2520" stroke-width="2.2"/>
<ellipse cx="1081.2" cy="1353.7" rx="5.6" ry="3.3" fill="#8f8e88" stroke="#1e1a17" stroke-width="2.2"/>
<rect x="1099.9" y="1346" width="34.8" height="23" rx="1.5" fill="url(#basg)" stroke="#2a2520" stroke-width="2.2"/>
<ellipse cx="1117.3" cy="1353.7" rx="5.6" ry="3.3" fill="#8f8e88" stroke="#1e1a17" stroke-width="2.2"/>
<rect x="1136.7" y="1346" width="34.8" height="23" rx="1.5" fill="url(#basg)" stroke="#2a2520" stroke-width="2.2"/>
<ellipse cx="1154.1" cy="1353.7" rx="5.6" ry="3.3" fill="#8f8e88" stroke="#1e1a17" stroke-width="2.2"/>
<rect x="1173.5" y="1346" width="34.8" height="23" rx="1.5" fill="url(#basg)" stroke="#2a2520" stroke-width="2.2"/>
<ellipse cx="1190.9" cy="1353.7" rx="5.6" ry="3.3" fill="#8f8e88" stroke="#1e1a17" stroke-width="2.2"/>
<rect x="1210.3" y="1346" width="36.3" height="23" rx="1.5" fill="url(#basg)" stroke="#2a2520" stroke-width="2.2"/>
<ellipse cx="1228.4" cy="1353.7" rx="5.6" ry="3.3" fill="#8f8e88" stroke="#1e1a17" stroke-width="2.2"/>
<rect x="1248.6" y="1346" width="34.8" height="23" rx="1.5" fill="url(#basg)" stroke="#2a2520" stroke-width="2.2"/>
<ellipse cx="1266.0" cy="1353.7" rx="5.6" ry="3.3" fill="#8f8e88" stroke="#1e1a17" stroke-width="2.2"/>
<rect x="1285.4" y="1346" width="34.8" height="23" rx="1.5" fill="url(#basg)" stroke="#2a2520" stroke-width="2.2"/>
<ellipse cx="1302.8" cy="1353.7" rx="5.6" ry="3.3" fill="#8f8e88" stroke="#1e1a17" stroke-width="2.2"/>
<rect x="1322.2" y="1346" width="34.8" height="23" rx="1.5" fill="url(#basg)" stroke="#2a2520" stroke-width="2.2"/>
<ellipse cx="1339.6" cy="1353.7" rx="5.6" ry="3.3" fill="#8f8e88" stroke="#1e1a17" stroke-width="2.2"/>
<rect x="1359.0" y="1346" width="34.8" height="23" rx="1.5" fill="url(#basg)" stroke="#2a2520" stroke-width="2.2"/>
<ellipse cx="1376.4" cy="1353.7" rx="5.6" ry="3.3" fill="#8f8e88" stroke="#1e1a17" stroke-width="2.2"/>
<rect x="1395.8" y="1346" width="33.4" height="23" rx="1.5" fill="url(#basg)" stroke="#2a2520" stroke-width="2.2"/>
<ellipse cx="1412.5" cy="1353.7" rx="5.6" ry="3.3" fill="#8f8e88" stroke="#1e1a17" stroke-width="2.2"/>
<rect x="1431.2" y="1346" width="30.4" height="23" rx="1.5" fill="url(#basg)" stroke="#2a2520" stroke-width="2.2"/>
<ellipse cx="1446.4" cy="1353.7" rx="5.6" ry="3.3" fill="#8f8e88" stroke="#1e1a17" stroke-width="2.2"/>
<polyline points="527.7,1782.4 552.3,1761.5 585.1,1730.1 598.6,1722.7 610.5,1710.7 628.4,1703.3 664.3,1691.3 701.6,1682.4 735.0,1674.9 782.0,1671.0 840.0,1671.4 876.6,1669.6 913.3,1663.5 947.4,1660.4 962.1,1646.4 979.2,1629.3" fill="none" stroke="#b8281f" stroke-width="11" stroke-linejoin="round"/>
<polyline points="527.7,1782.4 552.3,1761.5 585.1,1730.1 598.6,1722.7 610.5,1710.7 628.4,1703.3 664.3,1691.3 701.6,1682.4 735.0,1674.9 782.0,1671.0 840.0,1671.4 876.6,1669.6 913.3,1663.5 947.4,1660.4 962.1,1646.4 979.2,1629.3" fill="none" stroke="#d0302a" stroke-width="8" stroke-linejoin="round"/>
<polyline points="529.2,1840.6 559.8,1813.7 589.6,1786.9 607.5,1773.4 622.5,1764.5 649.3,1757.0 679.2,1748.1 735.0,1731.6 799.8,1725.8 852.7,1722.3 876.6,1723.3 913.3,1717.2 968.2,1713.6 984.1,1697.7 1001.2,1680.6" fill="none" stroke="#b8281f" stroke-width="11" stroke-linejoin="round"/>
<polyline points="529.2,1840.6 559.8,1813.7 589.6,1786.9 607.5,1773.4 622.5,1764.5 649.3,1757.0 679.2,1748.1 735.0,1731.6 799.8,1725.8 852.7,1722.3 876.6,1723.3 913.3,1717.2 968.2,1713.6 984.1,1697.7 1001.2,1680.6" fill="none" stroke="#d0302a" stroke-width="8" stroke-linejoin="round"/>
<path d="M625.4,1719.7 L634.4,1718.2 L643.4,1721.2 L655.3,1717.5 L656.8,1725.7 L667.2,1736.1 L661.3,1743.6 L653.8,1749.6 L641.9,1753.3 L637.4,1748.1 L628.4,1746.6 L622.5,1743.6 L624.0,1736.9 L631.4,1733.1 L628.4,1727.2 L626.2,1722.7 Z" fill="#f4f3e2" stroke="#6a6a30" stroke-width="1.4" stroke-linejoin="round"/>
<circle cx="647.8" cy="1740.6" r="5" fill="#2f9a55" filter="url(#blur05)"/>
<circle cx="647.8" cy="1740.6" r="2.3" fill="#1f6a6a" />
<path d="M817.4,1683.7 L826.4,1682.2 L835.4,1685.2 L847.3,1681.5 L848.8,1689.7 L859.2,1700.1 L853.3,1707.6 L845.8,1713.6 L833.9,1717.3 L829.4,1712.1 L820.4,1710.6 L814.5,1707.6 L816.0,1700.9 L823.4,1697.1 L820.4,1691.2 L818.2,1686.7 Z" fill="#f4f3e2" stroke="#6a6a30" stroke-width="1.4" stroke-linejoin="round"/>
<circle cx="839.8" cy="1704.6" r="5" fill="#2f9a55" filter="url(#blur05)"/>
<circle cx="839.8" cy="1704.6" r="2.3" fill="#1f6a6a" />
<circle cx="187.2" cy="1537.7" r="3.4" fill="#c8202a" />
<circle cx="244.9" cy="1547.8" r="3.4" fill="#c8202a" />
<circle cx="212.0" cy="1578.4" r="3.4" fill="#c8202a" />
<circle cx="267.0" cy="1592.0" r="3.4" fill="#c8202a" />
<circle cx="195.7" cy="1614.0" r="3.4" fill="#c8202a" />
<circle cx="217.4" cy="1657.9" r="3.4" fill="#c8202a" />
<circle cx="866.3" cy="1443.0" r="3.4" fill="#c8202a" />
<circle cx="904.3" cy="1440.2" r="3.4" fill="#c8202a" />
<circle cx="985.0" cy="1375.8" r="3.4" fill="#c8202a" />
<circle cx="1025.1" cy="1410.7" r="3.4" fill="#c8202a" />
<circle cx="1106.7" cy="1404.6" r="3.4" fill="#c8202a" />
<circle cx="1186.4" cy="1383.6" r="3.4" fill="#c8202a" />
<circle cx="1248.7" cy="1396.2" r="3.4" fill="#c8202a" />
<circle cx="1296.2" cy="1389.0" r="3.4" fill="#c8202a" />
<circle cx="1387.5" cy="1397.3" r="3.4" fill="#c8202a" />
<circle cx="1225.5" cy="1449.9" r="3.4" fill="#c8202a" />
<circle cx="1253.4" cy="1477.8" r="3.4" fill="#c8202a" />
<circle cx="318.5" cy="1561.4" r="3.2" fill="#111" />
<circle cx="367.0" cy="1598.7" r="3.2" fill="#111" />
<circle cx="326.0" cy="1632.2" r="3.2" fill="#111" />
<circle cx="417.7" cy="1634.7" r="3.2" fill="#111" />
<circle cx="425.0" cy="1686.0" r="3.2" fill="#111" />
<circle cx="356.6" cy="1704.3" r="3.2" fill="#111" />
<circle cx="399.4" cy="1723.8" r="3.2" fill="#111" />
<line x1="217.9" y1="1752.0" x2="217.9" y2="1712.3" stroke="#555" stroke-width="2" />
<path d="M217.9,1704.3 L212.4,1716.3 L223.4,1716.3 Z" fill="#1a1a1a"/>
<text x="231.56" y="1742.10" font-size="26" font-weight="bold" fill="#1a1a1a" textLength="62.58" lengthAdjust="spacing">Bcl-2</text>
<line x1="1035.0" y1="1564.0" x2="1035.0" y2="1527.0" stroke="#555" stroke-width="2" />
<path d="M1035,1519 L1029.5,1531 L1040.5,1531 Z" fill="#1a1a1a"/>
<text x="1046.26" y="1555.60" font-size="26" font-weight="bold" fill="#1a1a1a" textLength="62.58" lengthAdjust="spacing">Bcl-2</text>
<rect x="315" y="1944" width="6.5" height="36" fill="#1a1a1a"/><rect x="294.6" y="1976" width="42.6" height="6.3" fill="#1a1a1a"/>
<path d="M271.1,2009.2 L345.9,2007.9 L352.9,2000.8 L347.8,2011.1 L346.1,2024.4 L325.2,2025.9 L325.2,2028.8 L339.2,2028.8 L339.2,2036.5 L296.9,2038.2 L273.7,2032.4 L244.0,2024.4 L244.7,2020.1 L283.3,2018.5 L283.3,2009.4 Z" fill="#f4f4e4" stroke="#76783a" stroke-width="1.5" stroke-linejoin="round"/>
<path d="M325.2,2025.9 L400.0,2024.6 L408.4,2019.5 L401.5,2028.8 L401.3,2043.0 L415.5,2044.6 L401.5,2048.1 L402.6,2056.6 L349.7,2057.9 L296.9,2059.4 L295.6,2040.1 L339.2,2036.5 L339.2,2028.8 L325.2,2028.8 Z" fill="#f4f4e4" stroke="#76783a" stroke-width="1.5" stroke-linejoin="round"/>
<path d="M241.4,2045.3 L242.7,2040.4 L293.0,2038.8 L296.2,2039.5 L295.6,2063.3 L277.5,2062.0 L254.3,2055.6 L242.1,2050.4 Z" fill="#f4f4e4" stroke="#76783a" stroke-width="1.5" stroke-linejoin="round"/>
<path d="M295.6,2060.1 L348.4,2058.2 L350.0,2082.7 L374.2,2086.8 L373.6,2089.4 L351.0,2085.5 L313.6,2076.2 L298.8,2069.1 Z" fill="#f4f4e4" stroke="#76783a" stroke-width="1.5" stroke-linejoin="round"/>
<polyline points="283.3,2007.6 283.3,2018.8" fill="none" stroke="#76783a" stroke-width="1.5"/>
<polyline points="296.9,2039.5 307.2,2046.6 317.5,2051.7 348.4,2057.9" fill="none" stroke="#76783a" stroke-width="1.5"/>
<circle cx="280.8" cy="2051.7" r="6.5" fill="#6070b8" filter="url(#blur1)"/>
<circle cx="280.8" cy="2051.7" r="4.6" fill="#0d0d18" />
<circle cx="354.2" cy="2046.6" r="6.5" fill="#6070b8" filter="url(#blur1)"/>
<circle cx="354.2" cy="2046.6" r="4.6" fill="#0d0d18" />
<text x="143.66" y="1194.40" font-size="33.5" font-weight="bold" fill="#1a1a1a" textLength="338.75" lengthAdjust="spacing">Primary breast tumor</text>
<text x="1171.73" y="1194.20" font-size="34" font-weight="bold" fill="#1a1a1a" textLength="84.05" lengthAdjust="spacing">Lung</text>
<text x="192.54" y="1256.50" font-size="29.3" font-weight="bold" fill="#6a2a8a" textLength="147.83" lengthAdjust="spacing">Neutrophil</text>
<text x="867.74" y="1257.00" font-size="29.3" font-weight="bold" fill="#6a2a8a" textLength="148.83" lengthAdjust="spacing">Neutrophil</text>
<text x="624.2" y="1315" font-size="29.3" font-weight="bold" fill="#d574ab">Ly6C<tspan dy="-11" font-size="18.5" font-weight="normal">hi</tspan><tspan dy="11"> monocyte</tspan></text>
<text x="1127.83" y="1264.80" font-size="29.5" font-weight="bold" fill="#3c6db4" textLength="227.60" lengthAdjust="spacing">Lung epithelium</text>
<text x="91.97" y="1550.00" font-size="29" font-weight="bold" fill="#c0282d" textLength="73.12" lengthAdjust="spacing">TSLP</text>
<text x="437.7" y="1653" font-size="29.5" font-weight="bold" fill="#1a1a1a">IL-1<tspan font-weight="normal" font-family="Liberation Serif, serif" font-size="33">α</tspan></text>
<text x="438.03" y="1918.00" font-size="29.5" font-weight="bold" fill="#1e8c3a" textLength="240.46" lengthAdjust="spacing">Breast tumor cell</text></svg></body></html>
